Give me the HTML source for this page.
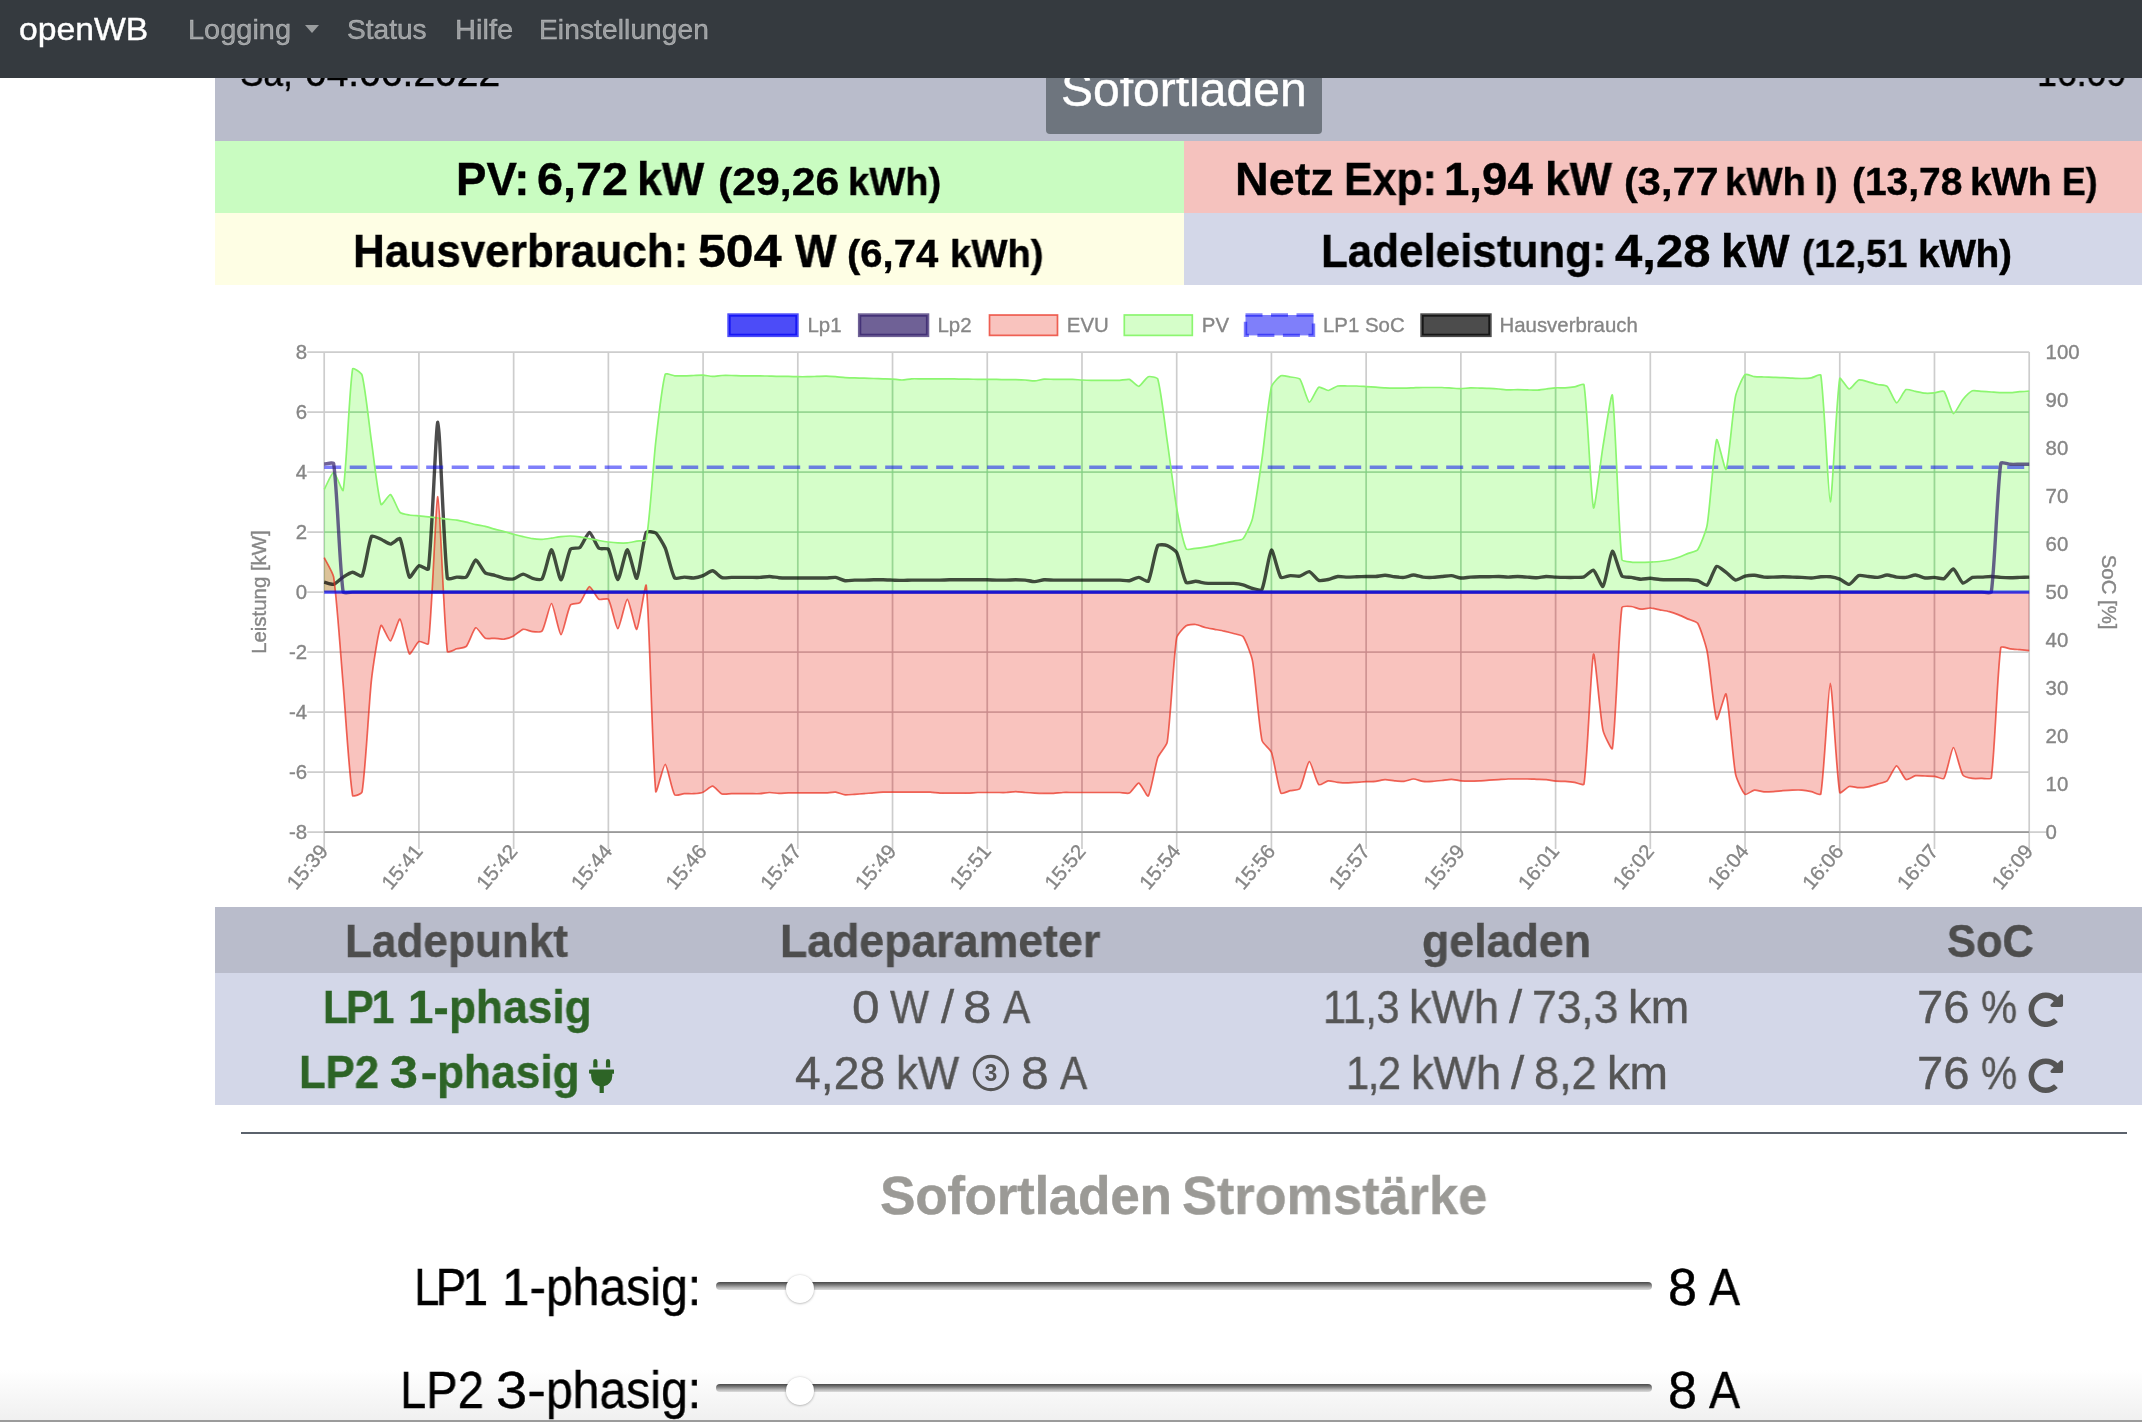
<!DOCTYPE html>
<html lang="de"><head><meta charset="utf-8"><title>openWB</title>
<style>
html,body{margin:0;padding:0;}
body{width:2142px;height:1422px;position:relative;overflow:hidden;background:#fff;font-family:"Liberation Sans",sans-serif;}
.t{position:absolute;white-space:nowrap;line-height:1;will-change:transform;-webkit-text-stroke:0.4px currentColor;}
.b{position:absolute;}
#nav{position:absolute;left:0;top:0;width:2142px;height:77.6px;background:#353a3f;z-index:10;}
.track{position:absolute;left:716px;width:936px;height:8px;border-radius:4px;background:linear-gradient(#484848,#6a6a6a 25%,#b5b5b5 70%,#dcdcdc);}
.thumb{position:absolute;width:28px;height:28px;border-radius:50%;background:#fff;box-shadow:0 0.5px 2.5px rgba(0,0,0,.35);}
</style></head><body>
<div class="b" style="left:215px;top:60px;width:1927px;height:81px;background:#b9bccb"></div>
<div class="t" style="left:240.17px;top:54.23px;font-size:38px;font-weight:normal;color:#000;letter-spacing:0.000px;transform:scaleX(0.9256);transform-origin:0 0;">Sa,</div><div class="t" style="left:304.87px;top:54.23px;font-size:38px;font-weight:normal;color:#000;letter-spacing:0.000px;transform:scaleX(1.0258);transform-origin:0 0;">04.06.2022</div><div class="t" style="left:2037.22px;top:54.13px;font-size:38px;font-weight:normal;color:#000;letter-spacing:0.000px;transform:scaleX(0.9395);transform-origin:0 0;">16:09</div>
<div class="b" style="left:1046.1px;top:40px;width:276px;height:94.1px;background:#6e757e;border-radius:4px"></div>
<div class="t" style="left:1060.60px;top:66.07px;font-size:48px;font-weight:normal;color:#fff;letter-spacing:0.009px;">Sofortladen</div>
<div class="b" style="left:215px;top:141px;width:969px;height:72px;background:#c9fcc1"></div>
<div class="b" style="left:1184px;top:141px;width:958px;height:72px;background:#f5c2be"></div>
<div class="b" style="left:215px;top:213px;width:969px;height:72.3px;background:#fefee4"></div>
<div class="b" style="left:1184px;top:213px;width:958px;height:72.3px;background:#d3d7e8"></div>
<div class="b" style="left:215px;top:907.2px;width:1927px;height:65.5px;background:#b9bccb"></div>
<div class="b" style="left:215px;top:972.7px;width:1927px;height:132px;background:#d3d7e8"></div>
<div class="b" style="left:241px;top:1132px;width:1886px;height:2px;background:#5b626c"></div>
<div class="b" style="left:0;top:1370px;width:2142px;height:50px;background:linear-gradient(rgba(240,240,240,0),rgba(240,240,240,1));pointer-events:none"></div>
<svg width="2142" height="1422" viewBox="0 0 2142 1422" style="position:absolute;left:0;top:0;will-change:transform" font-family="Liberation Sans, sans-serif" font-size="20.4" fill="#868686" stroke="#868686" stroke-width="0.35">
<g stroke="#cdcdcd" stroke-width="1.7" fill="none"><line x1="324.20" y1="352.10" x2="324.20" y2="849.10"/><line x1="418.92" y1="352.10" x2="418.92" y2="849.10"/><line x1="513.64" y1="352.10" x2="513.64" y2="849.10"/><line x1="608.37" y1="352.10" x2="608.37" y2="849.10"/><line x1="703.09" y1="352.10" x2="703.09" y2="849.10"/><line x1="797.81" y1="352.10" x2="797.81" y2="849.10"/><line x1="892.53" y1="352.10" x2="892.53" y2="849.10"/><line x1="987.26" y1="352.10" x2="987.26" y2="849.10"/><line x1="1081.98" y1="352.10" x2="1081.98" y2="849.10"/><line x1="1176.70" y1="352.10" x2="1176.70" y2="849.10"/><line x1="1271.42" y1="352.10" x2="1271.42" y2="849.10"/><line x1="1366.14" y1="352.10" x2="1366.14" y2="849.10"/><line x1="1460.87" y1="352.10" x2="1460.87" y2="849.10"/><line x1="1555.59" y1="352.10" x2="1555.59" y2="849.10"/><line x1="1650.31" y1="352.10" x2="1650.31" y2="849.10"/><line x1="1745.03" y1="352.10" x2="1745.03" y2="849.10"/><line x1="1839.76" y1="352.10" x2="1839.76" y2="849.10"/><line x1="1934.48" y1="352.10" x2="1934.48" y2="849.10"/><line x1="2029.20" y1="352.10" x2="2029.20" y2="849.10"/><line x1="307.20" y1="352.10" x2="2029.20" y2="352.10"/><line x1="307.20" y1="412.10" x2="2029.20" y2="412.10"/><line x1="307.20" y1="472.10" x2="2029.20" y2="472.10"/><line x1="307.20" y1="532.10" x2="2029.20" y2="532.10"/><line x1="307.20" y1="592.10" x2="2029.20" y2="592.10"/><line x1="307.20" y1="652.10" x2="2029.20" y2="652.10"/><line x1="307.20" y1="712.10" x2="2029.20" y2="712.10"/><line x1="307.20" y1="772.10" x2="2029.20" y2="772.10"/><line x1="307.20" y1="832.10" x2="2029.20" y2="832.10"/><line x1="2029.20" y1="832.10" x2="2046.20" y2="832.10"/></g>
<line x1="324.20" y1="832.10" x2="2029.20" y2="832.10" stroke="#9a9a9a" stroke-width="1.7"/>
<path d="M324.20 489.50C326.09 486.08 331.82 472.31 333.67 472.40C335.60 472.49 342.60 493.36 343.14 490.40C346.39 472.66 349.15 389.97 352.62 368.90C352.94 366.93 361.54 373.09 362.09 375.20C365.33 387.73 369.60 428.73 371.56 442.10C373.39 454.59 377.92 495.87 381.03 504.50C381.71 506.37 388.97 493.97 390.51 494.60C392.76 495.53 397.44 509.56 399.98 512.30C401.22 513.64 407.52 514.63 409.45 515.00C411.31 515.35 417.03 515.72 418.92 515.90C420.82 516.08 426.50 516.59 428.39 516.80C430.29 517.01 435.97 517.76 437.87 518.00C439.76 518.24 445.44 518.99 447.34 519.20C449.23 519.41 454.94 519.80 456.81 520.10C458.72 520.40 464.40 521.75 466.28 522.20C468.18 522.65 473.85 524.18 475.76 524.60C477.64 525.02 483.35 525.95 485.23 526.40C487.14 526.85 492.80 528.59 494.70 529.10C496.59 529.61 502.29 530.99 504.17 531.50C506.07 532.01 511.74 533.69 513.64 534.20C515.53 534.71 521.22 536.15 523.12 536.60C525.00 537.05 530.67 538.43 532.59 538.70C534.46 538.97 540.17 539.36 542.06 539.30C543.96 539.24 549.64 538.37 551.53 538.10C553.43 537.83 559.10 536.81 561.01 536.60C562.89 536.39 568.59 535.97 570.48 536.00C572.37 536.03 578.07 536.63 579.95 536.90C581.86 537.17 587.53 538.34 589.42 538.70C591.32 539.06 596.99 540.17 598.89 540.50C600.78 540.83 606.46 541.76 608.37 542.00C610.25 542.24 615.94 542.81 617.84 542.90C619.73 542.99 625.43 543.08 627.31 542.90C629.22 542.72 634.88 541.43 636.78 541.10C638.67 540.77 645.92 541.37 646.26 539.60C649.71 521.57 653.50 461.56 655.73 442.10C657.29 428.50 661.88 385.93 665.20 374.30C665.67 372.67 672.77 375.65 674.67 375.80C676.55 375.95 682.25 375.83 684.14 375.80C686.04 375.77 691.72 375.56 693.62 375.50C695.51 375.44 701.20 375.11 703.09 375.20C704.99 375.29 710.66 376.37 712.56 376.40C714.45 376.43 720.13 375.59 722.03 375.50C723.92 375.41 729.61 375.47 731.51 375.50C733.40 375.53 739.08 375.77 740.98 375.80C742.87 375.83 748.56 375.80 750.45 375.80C752.34 375.80 758.03 375.77 759.92 375.80C761.82 375.83 767.50 376.04 769.39 376.10C771.29 376.16 776.97 376.37 778.87 376.40C780.76 376.43 786.44 376.37 788.34 376.40C790.23 376.43 795.92 376.67 797.81 376.70C799.71 376.73 805.39 376.73 807.28 376.70C809.18 376.67 814.86 376.46 816.76 376.40C818.65 376.34 824.33 376.07 826.23 376.10C828.12 376.13 833.81 376.55 835.70 376.70C837.60 376.85 843.27 377.48 845.17 377.60C847.06 377.72 852.75 377.84 854.64 377.90C856.54 377.96 862.22 378.14 864.12 378.20C866.01 378.26 871.69 378.44 873.59 378.50C875.48 378.56 881.17 378.74 883.06 378.80C884.96 378.86 890.64 378.98 892.53 379.10C894.43 379.22 900.11 380.03 902.01 380.00C903.90 379.97 909.58 378.92 911.48 378.80C913.36 378.68 919.06 378.80 920.95 378.80C922.84 378.80 928.53 378.80 930.42 378.80C932.32 378.80 938.00 378.80 939.89 378.80C941.79 378.80 947.47 378.77 949.37 378.80C951.26 378.83 956.94 379.07 958.84 379.10C960.73 379.13 966.42 379.07 968.31 379.10C970.21 379.13 975.89 379.37 977.78 379.40C979.68 379.43 985.36 379.40 987.26 379.40C989.15 379.40 994.83 379.37 996.73 379.40C998.62 379.43 1004.31 379.67 1006.20 379.70C1008.09 379.73 1013.78 379.67 1015.67 379.70C1017.57 379.73 1023.25 379.88 1025.14 380.00C1027.04 380.12 1032.73 380.99 1034.62 380.90C1036.52 380.81 1042.18 379.25 1044.09 379.10C1045.97 378.95 1051.67 379.37 1053.56 379.40C1055.46 379.43 1061.14 379.40 1063.03 379.40C1064.93 379.40 1070.61 379.34 1072.51 379.40C1074.40 379.46 1080.08 379.91 1081.98 380.00C1083.87 380.09 1089.56 380.27 1091.45 380.30C1093.34 380.33 1099.03 380.30 1100.92 380.30C1102.82 380.30 1108.50 380.30 1110.39 380.30C1112.29 380.30 1117.98 380.39 1119.87 380.30C1121.77 380.21 1127.64 378.86 1129.34 379.40C1131.43 380.06 1137.05 386.55 1138.81 386.30C1140.84 386.01 1146.09 377.54 1148.28 376.70C1149.88 376.10 1157.25 377.36 1157.76 379.10C1161.03 390.26 1165.40 428.77 1167.23 441.20C1169.19 454.57 1174.36 494.80 1176.70 508.10C1178.15 516.34 1183.08 542.35 1186.17 548.90C1186.87 550.39 1193.76 548.48 1195.64 548.30C1197.54 548.12 1203.23 547.40 1205.12 547.10C1207.02 546.80 1212.70 545.69 1214.59 545.30C1216.49 544.91 1222.17 543.62 1224.06 543.20C1225.96 542.78 1231.65 541.55 1233.53 541.10C1235.43 540.65 1241.85 540.07 1243.01 538.70C1245.64 535.57 1251.46 522.89 1252.48 518.60C1255.24 506.99 1260.24 471.11 1261.95 459.20C1264.03 444.77 1268.27 400.80 1271.42 386.90C1272.05 384.12 1278.60 377.00 1280.89 375.80C1282.39 375.02 1288.49 376.67 1290.37 377.00C1292.28 377.33 1298.78 377.69 1299.84 379.10C1302.57 382.73 1307.10 401.25 1309.31 402.20C1310.89 402.87 1316.36 388.69 1318.78 387.20C1320.15 386.35 1326.40 390.62 1328.26 390.50C1330.19 390.38 1335.74 386.47 1337.73 386.00C1339.53 385.57 1345.31 386.00 1347.20 386.00C1349.09 386.00 1354.78 385.94 1356.67 386.00C1358.57 386.06 1364.25 386.48 1366.14 386.60C1368.04 386.72 1373.72 387.08 1375.62 387.20C1377.51 387.32 1383.19 387.71 1385.09 387.80C1386.98 387.89 1392.67 388.07 1394.56 388.10C1396.46 388.13 1402.14 388.13 1404.03 388.10C1405.93 388.07 1411.61 387.86 1413.51 387.80C1415.40 387.74 1421.08 387.53 1422.98 387.50C1424.87 387.47 1430.56 387.50 1432.45 387.50C1434.34 387.50 1440.03 387.44 1441.92 387.50C1443.82 387.56 1449.50 387.98 1451.39 388.10C1453.29 388.22 1458.97 388.73 1460.87 388.70C1462.76 388.67 1468.44 387.86 1470.34 387.80C1472.23 387.74 1477.92 388.04 1479.81 388.10C1481.71 388.16 1487.39 388.31 1489.28 388.40C1491.18 388.49 1496.86 388.85 1498.76 389.00C1500.65 389.15 1506.33 389.84 1508.23 389.90C1510.12 389.96 1515.81 389.60 1517.70 389.60C1519.59 389.60 1525.28 389.84 1527.17 389.90C1529.07 389.96 1534.76 390.29 1536.64 390.20C1538.55 390.11 1544.22 389.24 1546.12 389.00C1548.01 388.76 1553.69 387.92 1555.59 387.80C1557.48 387.68 1563.17 387.89 1565.06 387.80C1566.96 387.71 1572.66 387.20 1574.53 386.90C1576.45 386.60 1583.73 383.04 1584.01 384.80C1587.52 407.22 1590.96 499.57 1593.48 507.80C1594.74 511.93 1600.89 458.81 1602.95 446.60C1604.68 436.31 1611.51 389.86 1612.42 395.30C1615.30 412.48 1618.32 528.21 1621.89 559.70C1622.11 561.57 1629.44 561.83 1631.37 562.10C1633.23 562.37 1638.94 562.40 1640.84 562.40C1642.73 562.40 1648.42 562.19 1650.31 562.10C1652.21 562.01 1657.90 561.71 1659.78 561.50C1661.69 561.29 1667.39 560.41 1669.26 560.00C1671.18 559.57 1676.87 557.95 1678.73 557.30C1680.66 556.63 1686.30 554.15 1688.20 553.40C1690.08 552.65 1696.62 551.37 1697.67 549.80C1700.41 545.73 1706.26 530.36 1707.14 525.20C1710.04 508.34 1713.84 447.89 1716.62 439.70C1717.62 436.73 1724.96 471.98 1726.09 469.40C1728.75 463.28 1732.69 410.57 1735.56 396.20C1736.48 391.61 1742.35 377.36 1745.03 374.60C1746.14 373.46 1752.59 376.46 1754.51 376.70C1756.38 376.94 1762.08 376.94 1763.98 377.00C1765.87 377.06 1771.56 377.24 1773.45 377.30C1775.34 377.36 1781.03 377.51 1782.92 377.60C1784.82 377.69 1790.50 378.11 1792.39 378.20C1794.29 378.29 1799.97 378.53 1801.87 378.50C1803.76 378.47 1809.48 378.22 1811.34 377.90C1813.27 377.56 1820.54 373.42 1820.81 375.20C1824.33 398.20 1828.36 501.47 1830.28 501.80C1832.15 502.13 1836.36 398.74 1839.76 378.50C1840.14 376.18 1847.26 388.84 1849.23 389.00C1851.05 389.14 1856.52 380.83 1858.70 380.00C1860.31 379.39 1866.30 381.35 1868.17 381.80C1870.09 382.25 1875.73 384.05 1877.64 384.50C1879.52 384.95 1885.84 385.07 1887.12 386.30C1889.63 388.73 1894.55 402.44 1896.59 402.80C1898.33 403.10 1903.68 391.03 1906.06 389.60C1907.47 388.75 1913.64 391.04 1915.53 391.40C1917.43 391.76 1923.09 393.05 1925.01 393.20C1926.88 393.35 1932.59 393.08 1934.48 392.90C1936.38 392.72 1942.87 390.22 1943.95 391.40C1946.66 394.36 1951.20 412.65 1953.42 413.60C1954.99 414.27 1960.74 402.10 1962.89 399.50C1964.53 397.54 1970.19 391.73 1972.37 390.80C1973.98 390.11 1979.94 391.28 1981.84 391.40C1983.73 391.52 1989.42 391.88 1991.31 392.00C1993.21 392.12 1998.89 392.54 2000.78 392.60C2002.68 392.66 2008.37 392.69 2010.26 392.60C2012.15 392.51 2017.83 391.85 2019.73 391.70C2021.62 391.55 2027.31 391.22 2029.20 391.10L2029.20 592.10L324.20 592.10Z" fill="rgba(117,251,76,0.3)" stroke="none"/>
<path d="M324.20 557.60C326.09 561.50 333.04 572.85 333.67 577.10C336.83 598.23 341.28 663.02 343.14 684.50C345.07 706.70 349.14 775.81 352.62 795.50C352.93 797.29 361.78 793.81 362.09 791.90C365.57 770.53 369.00 701.57 371.56 679.10C372.79 668.27 378.19 631.11 381.03 625.40C381.98 623.49 388.86 641.55 390.51 641.00C392.65 640.29 398.47 618.07 399.98 619.10C402.26 620.65 406.80 650.75 409.45 653.90C410.59 655.25 416.59 642.86 418.92 641.60C420.38 640.82 428.16 645.49 428.39 643.70C431.95 616.51 436.02 495.94 437.87 496.70C439.81 497.50 443.78 622.90 447.34 651.50C447.57 653.32 454.91 649.31 456.81 648.80C458.70 648.29 465.08 647.74 466.28 646.40C468.86 643.54 473.50 628.77 475.76 627.80C477.29 627.15 482.96 637.04 485.23 638.30C486.75 639.14 492.81 638.21 494.70 638.30C496.60 638.39 502.33 639.43 504.17 639.20C506.12 638.95 511.88 636.82 513.64 635.90C515.67 634.84 521.06 629.75 523.12 629.30C524.85 628.91 530.67 631.52 532.59 631.70C534.46 631.88 541.13 632.48 542.06 631.10C544.92 626.84 549.74 603.16 551.53 603.50C553.53 603.88 559.07 634.55 561.01 634.70C562.86 634.85 567.59 609.89 570.48 605.00C571.38 603.47 578.64 603.86 579.95 602.60C582.43 600.20 587.38 587.06 589.42 586.70C591.16 586.40 596.53 597.73 598.89 599.30C600.32 600.25 607.48 597.92 608.37 599.30C611.27 603.80 615.94 628.70 617.84 628.70C619.73 628.70 625.43 599.24 627.31 599.30C629.22 599.36 635.22 630.44 636.78 629.30C639.01 627.68 645.58 579.71 646.26 585.50C649.37 612.17 652.40 760.23 655.73 791.60C656.19 795.99 663.40 763.99 665.20 764.30C667.19 764.65 671.75 790.37 674.67 794.90C675.54 796.25 682.24 793.82 684.14 793.70C686.03 793.58 691.73 793.85 693.62 793.70C695.52 793.55 701.34 792.89 703.09 792.20C705.13 791.39 710.75 786.03 712.56 786.20C714.54 786.39 719.90 793.15 722.03 794.00C723.68 794.65 729.61 793.73 731.51 793.70C733.40 793.67 739.08 793.70 740.98 793.70C742.87 793.70 748.56 793.70 750.45 793.70C752.34 793.70 758.04 793.82 759.92 793.70C761.82 793.58 767.50 792.53 769.39 792.50C771.29 792.47 776.97 793.37 778.87 793.40C780.76 793.43 786.44 792.86 788.34 792.80C790.23 792.74 795.92 792.80 797.81 792.80C799.71 792.80 805.39 792.80 807.28 792.80C809.18 792.80 814.86 792.80 816.76 792.80C818.65 792.80 824.34 792.86 826.23 792.80C828.12 792.74 833.84 791.99 835.70 792.20C837.63 792.41 843.24 794.69 845.17 794.90C847.03 795.11 852.75 794.42 854.64 794.30C856.54 794.18 862.22 793.85 864.12 793.70C866.01 793.55 871.69 792.95 873.59 792.80C875.48 792.65 881.16 792.26 883.06 792.20C884.95 792.14 890.64 792.20 892.53 792.20C894.43 792.20 900.11 792.20 902.01 792.20C903.90 792.20 909.58 792.20 911.48 792.20C913.37 792.20 919.06 792.20 920.95 792.20C922.84 792.20 928.53 792.11 930.42 792.20C932.32 792.29 938.00 793.01 939.89 793.10C941.78 793.19 947.47 793.10 949.37 793.10C951.26 793.10 956.94 793.10 958.84 793.10C960.73 793.10 966.42 793.16 968.31 793.10C970.21 793.04 975.89 792.56 977.78 792.50C979.68 792.44 985.36 792.50 987.26 792.50C989.15 792.50 994.83 792.50 996.73 792.50C998.62 792.50 1004.31 792.59 1006.20 792.50C1008.10 792.41 1013.78 791.60 1015.67 791.60C1017.57 791.60 1023.25 792.35 1025.14 792.50C1027.04 792.65 1032.72 793.01 1034.62 793.10C1036.51 793.19 1042.19 793.37 1044.09 793.40C1045.98 793.43 1051.67 793.49 1053.56 793.40C1055.46 793.31 1061.13 792.59 1063.03 792.50C1064.92 792.41 1070.61 792.50 1072.51 792.50C1074.40 792.50 1080.08 792.50 1081.98 792.50C1083.87 792.50 1089.56 792.50 1091.45 792.50C1093.34 792.50 1099.03 792.50 1100.92 792.50C1102.82 792.50 1108.50 792.50 1110.39 792.50C1112.29 792.50 1117.97 792.44 1119.87 792.50C1121.76 792.56 1127.79 793.86 1129.34 793.10C1131.58 792.00 1137.06 782.92 1138.81 783.20C1140.85 783.52 1147.19 797.57 1148.28 796.10C1150.98 792.47 1155.16 765.09 1157.76 757.70C1158.95 754.29 1166.67 745.66 1167.23 742.10C1170.45 721.66 1173.39 658.02 1176.70 637.70C1177.18 634.74 1183.84 627.33 1186.17 625.70C1187.63 624.69 1193.79 624.32 1195.64 624.50C1197.58 624.68 1203.19 627.01 1205.12 627.50C1206.98 627.97 1212.69 628.94 1214.59 629.30C1216.48 629.66 1222.18 630.68 1224.06 631.10C1225.97 631.52 1231.65 632.96 1233.53 633.50C1235.44 634.04 1241.96 634.99 1243.01 636.50C1245.75 640.45 1251.55 655.70 1252.48 660.80C1255.34 676.46 1258.77 724.93 1261.95 740.30C1262.56 743.23 1270.41 749.48 1271.42 752.30C1274.20 760.04 1277.82 786.87 1280.89 793.10C1281.61 794.55 1288.47 791.15 1290.37 790.70C1292.25 790.25 1298.88 790.07 1299.84 788.60C1302.67 784.25 1307.29 762.02 1309.31 761.60C1311.08 761.24 1316.10 781.98 1318.78 784.70C1319.89 785.82 1326.30 781.05 1328.26 780.80C1330.09 780.57 1335.82 782.09 1337.73 782.30C1339.61 782.51 1345.31 782.90 1347.20 782.90C1349.09 782.90 1354.78 782.42 1356.67 782.30C1358.57 782.18 1364.25 781.79 1366.14 781.70C1368.04 781.61 1373.74 781.61 1375.62 781.40C1377.53 781.19 1383.19 779.66 1385.09 779.60C1386.97 779.54 1392.66 780.62 1394.56 780.80C1396.45 780.98 1402.17 781.58 1404.03 781.40C1405.96 781.22 1411.61 779.00 1413.51 779.00C1415.40 779.00 1421.05 781.16 1422.98 781.40C1424.84 781.64 1430.56 781.49 1432.45 781.40C1434.35 781.31 1440.03 780.71 1441.92 780.50C1443.82 780.29 1449.50 779.27 1451.39 779.30C1453.29 779.33 1458.96 780.62 1460.87 780.80C1462.75 780.98 1468.44 781.10 1470.34 781.10C1472.23 781.10 1477.92 780.89 1479.81 780.80C1481.71 780.71 1487.39 780.32 1489.28 780.20C1491.18 780.08 1496.86 779.72 1498.76 779.60C1500.65 779.48 1506.33 779.06 1508.23 779.00C1510.12 778.94 1515.81 779.00 1517.70 779.00C1519.59 779.00 1525.28 778.97 1527.17 779.00C1529.07 779.03 1534.75 779.24 1536.64 779.30C1538.54 779.36 1544.23 779.42 1546.12 779.60C1548.02 779.78 1553.68 780.92 1555.59 781.10C1557.47 781.28 1563.17 781.28 1565.06 781.40C1566.96 781.52 1572.65 782.03 1574.53 782.30C1576.44 782.57 1583.74 785.87 1584.01 784.10C1587.53 760.25 1591.09 661.00 1593.48 654.20C1594.88 650.20 1599.97 715.26 1602.95 730.10C1603.75 734.10 1611.94 751.52 1612.42 748.40C1615.73 727.04 1618.35 634.28 1621.89 607.70C1622.13 605.90 1629.50 606.35 1631.37 606.50C1633.29 606.65 1638.91 609.05 1640.84 609.20C1642.70 609.35 1648.43 607.94 1650.31 608.00C1652.21 608.06 1657.89 609.44 1659.78 609.80C1661.68 610.16 1667.40 611.10 1669.26 611.60C1671.19 612.12 1676.86 614.16 1678.73 614.90C1680.65 615.66 1686.31 618.26 1688.20 619.10C1690.09 619.94 1696.69 621.63 1697.67 623.30C1700.48 628.11 1706.00 645.68 1707.14 651.50C1709.79 664.88 1713.90 713.18 1716.62 719.30C1717.69 721.70 1725.14 691.35 1726.09 694.10C1728.93 702.33 1732.59 758.49 1735.56 774.20C1736.38 778.53 1742.45 792.13 1745.03 794.30C1746.24 795.31 1752.54 790.35 1754.51 790.10C1756.33 789.87 1762.07 791.75 1763.98 791.90C1765.86 792.05 1771.56 791.72 1773.45 791.60C1775.35 791.48 1781.03 790.85 1782.92 790.70C1784.81 790.55 1790.50 790.16 1792.39 790.10C1794.29 790.04 1799.98 789.95 1801.87 790.10C1803.77 790.25 1809.46 791.21 1811.34 791.60C1813.25 791.99 1820.50 795.75 1820.81 794.00C1824.29 774.09 1828.38 683.45 1830.28 683.30C1832.16 683.15 1836.32 773.78 1839.76 792.50C1840.11 794.42 1847.18 787.02 1849.23 786.50C1850.97 786.06 1856.80 787.67 1858.70 787.70C1860.59 787.73 1866.31 787.15 1868.17 786.80C1870.10 786.43 1875.77 784.69 1877.64 784.10C1879.56 783.49 1885.75 782.12 1887.12 780.80C1889.54 778.46 1894.64 765.92 1896.59 765.80C1898.43 765.68 1903.71 778.37 1906.06 779.60C1907.50 780.35 1913.57 776.07 1915.53 775.70C1917.35 775.35 1923.11 775.94 1925.01 776.00C1926.90 776.06 1932.61 776.06 1934.48 776.30C1936.39 776.54 1943.08 779.73 1943.95 778.40C1946.86 773.97 1951.43 747.85 1953.42 747.50C1955.22 747.19 1960.07 770.50 1962.89 775.10C1963.86 776.68 1970.42 778.06 1972.37 778.40C1974.21 778.72 1979.95 778.46 1981.84 778.40C1983.74 778.34 1991.05 779.57 1991.31 777.80C1994.84 753.41 1997.25 671.64 2000.78 647.60C2001.04 645.84 2008.36 648.59 2010.26 648.80C2012.15 649.01 2017.83 649.52 2019.73 649.70C2021.62 649.88 2027.31 650.42 2029.20 650.60L2029.20 592.10L324.20 592.10Z" fill="rgba(234,55,40,0.3)" stroke="none"/>
<clipPath id="cpv"><path d="M324.20 489.50C326.09 486.08 331.82 472.31 333.67 472.40C335.60 472.49 342.60 493.36 343.14 490.40C346.39 472.66 349.15 389.97 352.62 368.90C352.94 366.93 361.54 373.09 362.09 375.20C365.33 387.73 369.60 428.73 371.56 442.10C373.39 454.59 377.92 495.87 381.03 504.50C381.71 506.37 388.97 493.97 390.51 494.60C392.76 495.53 397.44 509.56 399.98 512.30C401.22 513.64 407.52 514.63 409.45 515.00C411.31 515.35 417.03 515.72 418.92 515.90C420.82 516.08 426.50 516.59 428.39 516.80C430.29 517.01 435.97 517.76 437.87 518.00C439.76 518.24 445.44 518.99 447.34 519.20C449.23 519.41 454.94 519.80 456.81 520.10C458.72 520.40 464.40 521.75 466.28 522.20C468.18 522.65 473.85 524.18 475.76 524.60C477.64 525.02 483.35 525.95 485.23 526.40C487.14 526.85 492.80 528.59 494.70 529.10C496.59 529.61 502.29 530.99 504.17 531.50C506.07 532.01 511.74 533.69 513.64 534.20C515.53 534.71 521.22 536.15 523.12 536.60C525.00 537.05 530.67 538.43 532.59 538.70C534.46 538.97 540.17 539.36 542.06 539.30C543.96 539.24 549.64 538.37 551.53 538.10C553.43 537.83 559.10 536.81 561.01 536.60C562.89 536.39 568.59 535.97 570.48 536.00C572.37 536.03 578.07 536.63 579.95 536.90C581.86 537.17 587.53 538.34 589.42 538.70C591.32 539.06 596.99 540.17 598.89 540.50C600.78 540.83 606.46 541.76 608.37 542.00C610.25 542.24 615.94 542.81 617.84 542.90C619.73 542.99 625.43 543.08 627.31 542.90C629.22 542.72 634.88 541.43 636.78 541.10C638.67 540.77 645.92 541.37 646.26 539.60C649.71 521.57 653.50 461.56 655.73 442.10C657.29 428.50 661.88 385.93 665.20 374.30C665.67 372.67 672.77 375.65 674.67 375.80C676.55 375.95 682.25 375.83 684.14 375.80C686.04 375.77 691.72 375.56 693.62 375.50C695.51 375.44 701.20 375.11 703.09 375.20C704.99 375.29 710.66 376.37 712.56 376.40C714.45 376.43 720.13 375.59 722.03 375.50C723.92 375.41 729.61 375.47 731.51 375.50C733.40 375.53 739.08 375.77 740.98 375.80C742.87 375.83 748.56 375.80 750.45 375.80C752.34 375.80 758.03 375.77 759.92 375.80C761.82 375.83 767.50 376.04 769.39 376.10C771.29 376.16 776.97 376.37 778.87 376.40C780.76 376.43 786.44 376.37 788.34 376.40C790.23 376.43 795.92 376.67 797.81 376.70C799.71 376.73 805.39 376.73 807.28 376.70C809.18 376.67 814.86 376.46 816.76 376.40C818.65 376.34 824.33 376.07 826.23 376.10C828.12 376.13 833.81 376.55 835.70 376.70C837.60 376.85 843.27 377.48 845.17 377.60C847.06 377.72 852.75 377.84 854.64 377.90C856.54 377.96 862.22 378.14 864.12 378.20C866.01 378.26 871.69 378.44 873.59 378.50C875.48 378.56 881.17 378.74 883.06 378.80C884.96 378.86 890.64 378.98 892.53 379.10C894.43 379.22 900.11 380.03 902.01 380.00C903.90 379.97 909.58 378.92 911.48 378.80C913.36 378.68 919.06 378.80 920.95 378.80C922.84 378.80 928.53 378.80 930.42 378.80C932.32 378.80 938.00 378.80 939.89 378.80C941.79 378.80 947.47 378.77 949.37 378.80C951.26 378.83 956.94 379.07 958.84 379.10C960.73 379.13 966.42 379.07 968.31 379.10C970.21 379.13 975.89 379.37 977.78 379.40C979.68 379.43 985.36 379.40 987.26 379.40C989.15 379.40 994.83 379.37 996.73 379.40C998.62 379.43 1004.31 379.67 1006.20 379.70C1008.09 379.73 1013.78 379.67 1015.67 379.70C1017.57 379.73 1023.25 379.88 1025.14 380.00C1027.04 380.12 1032.73 380.99 1034.62 380.90C1036.52 380.81 1042.18 379.25 1044.09 379.10C1045.97 378.95 1051.67 379.37 1053.56 379.40C1055.46 379.43 1061.14 379.40 1063.03 379.40C1064.93 379.40 1070.61 379.34 1072.51 379.40C1074.40 379.46 1080.08 379.91 1081.98 380.00C1083.87 380.09 1089.56 380.27 1091.45 380.30C1093.34 380.33 1099.03 380.30 1100.92 380.30C1102.82 380.30 1108.50 380.30 1110.39 380.30C1112.29 380.30 1117.98 380.39 1119.87 380.30C1121.77 380.21 1127.64 378.86 1129.34 379.40C1131.43 380.06 1137.05 386.55 1138.81 386.30C1140.84 386.01 1146.09 377.54 1148.28 376.70C1149.88 376.10 1157.25 377.36 1157.76 379.10C1161.03 390.26 1165.40 428.77 1167.23 441.20C1169.19 454.57 1174.36 494.80 1176.70 508.10C1178.15 516.34 1183.08 542.35 1186.17 548.90C1186.87 550.39 1193.76 548.48 1195.64 548.30C1197.54 548.12 1203.23 547.40 1205.12 547.10C1207.02 546.80 1212.70 545.69 1214.59 545.30C1216.49 544.91 1222.17 543.62 1224.06 543.20C1225.96 542.78 1231.65 541.55 1233.53 541.10C1235.43 540.65 1241.85 540.07 1243.01 538.70C1245.64 535.57 1251.46 522.89 1252.48 518.60C1255.24 506.99 1260.24 471.11 1261.95 459.20C1264.03 444.77 1268.27 400.80 1271.42 386.90C1272.05 384.12 1278.60 377.00 1280.89 375.80C1282.39 375.02 1288.49 376.67 1290.37 377.00C1292.28 377.33 1298.78 377.69 1299.84 379.10C1302.57 382.73 1307.10 401.25 1309.31 402.20C1310.89 402.87 1316.36 388.69 1318.78 387.20C1320.15 386.35 1326.40 390.62 1328.26 390.50C1330.19 390.38 1335.74 386.47 1337.73 386.00C1339.53 385.57 1345.31 386.00 1347.20 386.00C1349.09 386.00 1354.78 385.94 1356.67 386.00C1358.57 386.06 1364.25 386.48 1366.14 386.60C1368.04 386.72 1373.72 387.08 1375.62 387.20C1377.51 387.32 1383.19 387.71 1385.09 387.80C1386.98 387.89 1392.67 388.07 1394.56 388.10C1396.46 388.13 1402.14 388.13 1404.03 388.10C1405.93 388.07 1411.61 387.86 1413.51 387.80C1415.40 387.74 1421.08 387.53 1422.98 387.50C1424.87 387.47 1430.56 387.50 1432.45 387.50C1434.34 387.50 1440.03 387.44 1441.92 387.50C1443.82 387.56 1449.50 387.98 1451.39 388.10C1453.29 388.22 1458.97 388.73 1460.87 388.70C1462.76 388.67 1468.44 387.86 1470.34 387.80C1472.23 387.74 1477.92 388.04 1479.81 388.10C1481.71 388.16 1487.39 388.31 1489.28 388.40C1491.18 388.49 1496.86 388.85 1498.76 389.00C1500.65 389.15 1506.33 389.84 1508.23 389.90C1510.12 389.96 1515.81 389.60 1517.70 389.60C1519.59 389.60 1525.28 389.84 1527.17 389.90C1529.07 389.96 1534.76 390.29 1536.64 390.20C1538.55 390.11 1544.22 389.24 1546.12 389.00C1548.01 388.76 1553.69 387.92 1555.59 387.80C1557.48 387.68 1563.17 387.89 1565.06 387.80C1566.96 387.71 1572.66 387.20 1574.53 386.90C1576.45 386.60 1583.73 383.04 1584.01 384.80C1587.52 407.22 1590.96 499.57 1593.48 507.80C1594.74 511.93 1600.89 458.81 1602.95 446.60C1604.68 436.31 1611.51 389.86 1612.42 395.30C1615.30 412.48 1618.32 528.21 1621.89 559.70C1622.11 561.57 1629.44 561.83 1631.37 562.10C1633.23 562.37 1638.94 562.40 1640.84 562.40C1642.73 562.40 1648.42 562.19 1650.31 562.10C1652.21 562.01 1657.90 561.71 1659.78 561.50C1661.69 561.29 1667.39 560.41 1669.26 560.00C1671.18 559.57 1676.87 557.95 1678.73 557.30C1680.66 556.63 1686.30 554.15 1688.20 553.40C1690.08 552.65 1696.62 551.37 1697.67 549.80C1700.41 545.73 1706.26 530.36 1707.14 525.20C1710.04 508.34 1713.84 447.89 1716.62 439.70C1717.62 436.73 1724.96 471.98 1726.09 469.40C1728.75 463.28 1732.69 410.57 1735.56 396.20C1736.48 391.61 1742.35 377.36 1745.03 374.60C1746.14 373.46 1752.59 376.46 1754.51 376.70C1756.38 376.94 1762.08 376.94 1763.98 377.00C1765.87 377.06 1771.56 377.24 1773.45 377.30C1775.34 377.36 1781.03 377.51 1782.92 377.60C1784.82 377.69 1790.50 378.11 1792.39 378.20C1794.29 378.29 1799.97 378.53 1801.87 378.50C1803.76 378.47 1809.48 378.22 1811.34 377.90C1813.27 377.56 1820.54 373.42 1820.81 375.20C1824.33 398.20 1828.36 501.47 1830.28 501.80C1832.15 502.13 1836.36 398.74 1839.76 378.50C1840.14 376.18 1847.26 388.84 1849.23 389.00C1851.05 389.14 1856.52 380.83 1858.70 380.00C1860.31 379.39 1866.30 381.35 1868.17 381.80C1870.09 382.25 1875.73 384.05 1877.64 384.50C1879.52 384.95 1885.84 385.07 1887.12 386.30C1889.63 388.73 1894.55 402.44 1896.59 402.80C1898.33 403.10 1903.68 391.03 1906.06 389.60C1907.47 388.75 1913.64 391.04 1915.53 391.40C1917.43 391.76 1923.09 393.05 1925.01 393.20C1926.88 393.35 1932.59 393.08 1934.48 392.90C1936.38 392.72 1942.87 390.22 1943.95 391.40C1946.66 394.36 1951.20 412.65 1953.42 413.60C1954.99 414.27 1960.74 402.10 1962.89 399.50C1964.53 397.54 1970.19 391.73 1972.37 390.80C1973.98 390.11 1979.94 391.28 1981.84 391.40C1983.73 391.52 1989.42 391.88 1991.31 392.00C1993.21 392.12 1998.89 392.54 2000.78 392.60C2002.68 392.66 2008.37 392.69 2010.26 392.60C2012.15 392.51 2017.83 391.85 2019.73 391.70C2021.62 391.55 2027.31 391.22 2029.20 391.10L2029.20 592.10L324.20 592.10Z"/></clipPath><clipPath id="cev"><path d="M324.20 557.60C326.09 561.50 333.04 572.85 333.67 577.10C336.83 598.23 341.28 663.02 343.14 684.50C345.07 706.70 349.14 775.81 352.62 795.50C352.93 797.29 361.78 793.81 362.09 791.90C365.57 770.53 369.00 701.57 371.56 679.10C372.79 668.27 378.19 631.11 381.03 625.40C381.98 623.49 388.86 641.55 390.51 641.00C392.65 640.29 398.47 618.07 399.98 619.10C402.26 620.65 406.80 650.75 409.45 653.90C410.59 655.25 416.59 642.86 418.92 641.60C420.38 640.82 428.16 645.49 428.39 643.70C431.95 616.51 436.02 495.94 437.87 496.70C439.81 497.50 443.78 622.90 447.34 651.50C447.57 653.32 454.91 649.31 456.81 648.80C458.70 648.29 465.08 647.74 466.28 646.40C468.86 643.54 473.50 628.77 475.76 627.80C477.29 627.15 482.96 637.04 485.23 638.30C486.75 639.14 492.81 638.21 494.70 638.30C496.60 638.39 502.33 639.43 504.17 639.20C506.12 638.95 511.88 636.82 513.64 635.90C515.67 634.84 521.06 629.75 523.12 629.30C524.85 628.91 530.67 631.52 532.59 631.70C534.46 631.88 541.13 632.48 542.06 631.10C544.92 626.84 549.74 603.16 551.53 603.50C553.53 603.88 559.07 634.55 561.01 634.70C562.86 634.85 567.59 609.89 570.48 605.00C571.38 603.47 578.64 603.86 579.95 602.60C582.43 600.20 587.38 587.06 589.42 586.70C591.16 586.40 596.53 597.73 598.89 599.30C600.32 600.25 607.48 597.92 608.37 599.30C611.27 603.80 615.94 628.70 617.84 628.70C619.73 628.70 625.43 599.24 627.31 599.30C629.22 599.36 635.22 630.44 636.78 629.30C639.01 627.68 645.58 579.71 646.26 585.50C649.37 612.17 652.40 760.23 655.73 791.60C656.19 795.99 663.40 763.99 665.20 764.30C667.19 764.65 671.75 790.37 674.67 794.90C675.54 796.25 682.24 793.82 684.14 793.70C686.03 793.58 691.73 793.85 693.62 793.70C695.52 793.55 701.34 792.89 703.09 792.20C705.13 791.39 710.75 786.03 712.56 786.20C714.54 786.39 719.90 793.15 722.03 794.00C723.68 794.65 729.61 793.73 731.51 793.70C733.40 793.67 739.08 793.70 740.98 793.70C742.87 793.70 748.56 793.70 750.45 793.70C752.34 793.70 758.04 793.82 759.92 793.70C761.82 793.58 767.50 792.53 769.39 792.50C771.29 792.47 776.97 793.37 778.87 793.40C780.76 793.43 786.44 792.86 788.34 792.80C790.23 792.74 795.92 792.80 797.81 792.80C799.71 792.80 805.39 792.80 807.28 792.80C809.18 792.80 814.86 792.80 816.76 792.80C818.65 792.80 824.34 792.86 826.23 792.80C828.12 792.74 833.84 791.99 835.70 792.20C837.63 792.41 843.24 794.69 845.17 794.90C847.03 795.11 852.75 794.42 854.64 794.30C856.54 794.18 862.22 793.85 864.12 793.70C866.01 793.55 871.69 792.95 873.59 792.80C875.48 792.65 881.16 792.26 883.06 792.20C884.95 792.14 890.64 792.20 892.53 792.20C894.43 792.20 900.11 792.20 902.01 792.20C903.90 792.20 909.58 792.20 911.48 792.20C913.37 792.20 919.06 792.20 920.95 792.20C922.84 792.20 928.53 792.11 930.42 792.20C932.32 792.29 938.00 793.01 939.89 793.10C941.78 793.19 947.47 793.10 949.37 793.10C951.26 793.10 956.94 793.10 958.84 793.10C960.73 793.10 966.42 793.16 968.31 793.10C970.21 793.04 975.89 792.56 977.78 792.50C979.68 792.44 985.36 792.50 987.26 792.50C989.15 792.50 994.83 792.50 996.73 792.50C998.62 792.50 1004.31 792.59 1006.20 792.50C1008.10 792.41 1013.78 791.60 1015.67 791.60C1017.57 791.60 1023.25 792.35 1025.14 792.50C1027.04 792.65 1032.72 793.01 1034.62 793.10C1036.51 793.19 1042.19 793.37 1044.09 793.40C1045.98 793.43 1051.67 793.49 1053.56 793.40C1055.46 793.31 1061.13 792.59 1063.03 792.50C1064.92 792.41 1070.61 792.50 1072.51 792.50C1074.40 792.50 1080.08 792.50 1081.98 792.50C1083.87 792.50 1089.56 792.50 1091.45 792.50C1093.34 792.50 1099.03 792.50 1100.92 792.50C1102.82 792.50 1108.50 792.50 1110.39 792.50C1112.29 792.50 1117.97 792.44 1119.87 792.50C1121.76 792.56 1127.79 793.86 1129.34 793.10C1131.58 792.00 1137.06 782.92 1138.81 783.20C1140.85 783.52 1147.19 797.57 1148.28 796.10C1150.98 792.47 1155.16 765.09 1157.76 757.70C1158.95 754.29 1166.67 745.66 1167.23 742.10C1170.45 721.66 1173.39 658.02 1176.70 637.70C1177.18 634.74 1183.84 627.33 1186.17 625.70C1187.63 624.69 1193.79 624.32 1195.64 624.50C1197.58 624.68 1203.19 627.01 1205.12 627.50C1206.98 627.97 1212.69 628.94 1214.59 629.30C1216.48 629.66 1222.18 630.68 1224.06 631.10C1225.97 631.52 1231.65 632.96 1233.53 633.50C1235.44 634.04 1241.96 634.99 1243.01 636.50C1245.75 640.45 1251.55 655.70 1252.48 660.80C1255.34 676.46 1258.77 724.93 1261.95 740.30C1262.56 743.23 1270.41 749.48 1271.42 752.30C1274.20 760.04 1277.82 786.87 1280.89 793.10C1281.61 794.55 1288.47 791.15 1290.37 790.70C1292.25 790.25 1298.88 790.07 1299.84 788.60C1302.67 784.25 1307.29 762.02 1309.31 761.60C1311.08 761.24 1316.10 781.98 1318.78 784.70C1319.89 785.82 1326.30 781.05 1328.26 780.80C1330.09 780.57 1335.82 782.09 1337.73 782.30C1339.61 782.51 1345.31 782.90 1347.20 782.90C1349.09 782.90 1354.78 782.42 1356.67 782.30C1358.57 782.18 1364.25 781.79 1366.14 781.70C1368.04 781.61 1373.74 781.61 1375.62 781.40C1377.53 781.19 1383.19 779.66 1385.09 779.60C1386.97 779.54 1392.66 780.62 1394.56 780.80C1396.45 780.98 1402.17 781.58 1404.03 781.40C1405.96 781.22 1411.61 779.00 1413.51 779.00C1415.40 779.00 1421.05 781.16 1422.98 781.40C1424.84 781.64 1430.56 781.49 1432.45 781.40C1434.35 781.31 1440.03 780.71 1441.92 780.50C1443.82 780.29 1449.50 779.27 1451.39 779.30C1453.29 779.33 1458.96 780.62 1460.87 780.80C1462.75 780.98 1468.44 781.10 1470.34 781.10C1472.23 781.10 1477.92 780.89 1479.81 780.80C1481.71 780.71 1487.39 780.32 1489.28 780.20C1491.18 780.08 1496.86 779.72 1498.76 779.60C1500.65 779.48 1506.33 779.06 1508.23 779.00C1510.12 778.94 1515.81 779.00 1517.70 779.00C1519.59 779.00 1525.28 778.97 1527.17 779.00C1529.07 779.03 1534.75 779.24 1536.64 779.30C1538.54 779.36 1544.23 779.42 1546.12 779.60C1548.02 779.78 1553.68 780.92 1555.59 781.10C1557.47 781.28 1563.17 781.28 1565.06 781.40C1566.96 781.52 1572.65 782.03 1574.53 782.30C1576.44 782.57 1583.74 785.87 1584.01 784.10C1587.53 760.25 1591.09 661.00 1593.48 654.20C1594.88 650.20 1599.97 715.26 1602.95 730.10C1603.75 734.10 1611.94 751.52 1612.42 748.40C1615.73 727.04 1618.35 634.28 1621.89 607.70C1622.13 605.90 1629.50 606.35 1631.37 606.50C1633.29 606.65 1638.91 609.05 1640.84 609.20C1642.70 609.35 1648.43 607.94 1650.31 608.00C1652.21 608.06 1657.89 609.44 1659.78 609.80C1661.68 610.16 1667.40 611.10 1669.26 611.60C1671.19 612.12 1676.86 614.16 1678.73 614.90C1680.65 615.66 1686.31 618.26 1688.20 619.10C1690.09 619.94 1696.69 621.63 1697.67 623.30C1700.48 628.11 1706.00 645.68 1707.14 651.50C1709.79 664.88 1713.90 713.18 1716.62 719.30C1717.69 721.70 1725.14 691.35 1726.09 694.10C1728.93 702.33 1732.59 758.49 1735.56 774.20C1736.38 778.53 1742.45 792.13 1745.03 794.30C1746.24 795.31 1752.54 790.35 1754.51 790.10C1756.33 789.87 1762.07 791.75 1763.98 791.90C1765.86 792.05 1771.56 791.72 1773.45 791.60C1775.35 791.48 1781.03 790.85 1782.92 790.70C1784.81 790.55 1790.50 790.16 1792.39 790.10C1794.29 790.04 1799.98 789.95 1801.87 790.10C1803.77 790.25 1809.46 791.21 1811.34 791.60C1813.25 791.99 1820.50 795.75 1820.81 794.00C1824.29 774.09 1828.38 683.45 1830.28 683.30C1832.16 683.15 1836.32 773.78 1839.76 792.50C1840.11 794.42 1847.18 787.02 1849.23 786.50C1850.97 786.06 1856.80 787.67 1858.70 787.70C1860.59 787.73 1866.31 787.15 1868.17 786.80C1870.10 786.43 1875.77 784.69 1877.64 784.10C1879.56 783.49 1885.75 782.12 1887.12 780.80C1889.54 778.46 1894.64 765.92 1896.59 765.80C1898.43 765.68 1903.71 778.37 1906.06 779.60C1907.50 780.35 1913.57 776.07 1915.53 775.70C1917.35 775.35 1923.11 775.94 1925.01 776.00C1926.90 776.06 1932.61 776.06 1934.48 776.30C1936.39 776.54 1943.08 779.73 1943.95 778.40C1946.86 773.97 1951.43 747.85 1953.42 747.50C1955.22 747.19 1960.07 770.50 1962.89 775.10C1963.86 776.68 1970.42 778.06 1972.37 778.40C1974.21 778.72 1979.95 778.46 1981.84 778.40C1983.74 778.34 1991.05 779.57 1991.31 777.80C1994.84 753.41 1997.25 671.64 2000.78 647.60C2001.04 645.84 2008.36 648.59 2010.26 648.80C2012.15 649.01 2017.83 649.52 2019.73 649.70C2021.62 649.88 2027.31 650.42 2029.20 650.60L2029.20 592.10L324.20 592.10Z"/></clipPath>
<g clip-path="url(#cpv)" stroke="rgba(60,200,80,0.22)" stroke-width="1.7" fill="none"><line x1="324.20" y1="352.10" x2="324.20" y2="849.10"/><line x1="418.92" y1="352.10" x2="418.92" y2="849.10"/><line x1="513.64" y1="352.10" x2="513.64" y2="849.10"/><line x1="608.37" y1="352.10" x2="608.37" y2="849.10"/><line x1="703.09" y1="352.10" x2="703.09" y2="849.10"/><line x1="797.81" y1="352.10" x2="797.81" y2="849.10"/><line x1="892.53" y1="352.10" x2="892.53" y2="849.10"/><line x1="987.26" y1="352.10" x2="987.26" y2="849.10"/><line x1="1081.98" y1="352.10" x2="1081.98" y2="849.10"/><line x1="1176.70" y1="352.10" x2="1176.70" y2="849.10"/><line x1="1271.42" y1="352.10" x2="1271.42" y2="849.10"/><line x1="1366.14" y1="352.10" x2="1366.14" y2="849.10"/><line x1="1460.87" y1="352.10" x2="1460.87" y2="849.10"/><line x1="1555.59" y1="352.10" x2="1555.59" y2="849.10"/><line x1="1650.31" y1="352.10" x2="1650.31" y2="849.10"/><line x1="1745.03" y1="352.10" x2="1745.03" y2="849.10"/><line x1="1839.76" y1="352.10" x2="1839.76" y2="849.10"/><line x1="1934.48" y1="352.10" x2="1934.48" y2="849.10"/><line x1="2029.20" y1="352.10" x2="2029.20" y2="849.10"/><line x1="307.20" y1="352.10" x2="2029.20" y2="352.10"/><line x1="307.20" y1="412.10" x2="2029.20" y2="412.10"/><line x1="307.20" y1="472.10" x2="2029.20" y2="472.10"/><line x1="307.20" y1="532.10" x2="2029.20" y2="532.10"/><line x1="307.20" y1="592.10" x2="2029.20" y2="592.10"/><line x1="307.20" y1="652.10" x2="2029.20" y2="652.10"/><line x1="307.20" y1="712.10" x2="2029.20" y2="712.10"/><line x1="307.20" y1="772.10" x2="2029.20" y2="772.10"/><line x1="307.20" y1="832.10" x2="2029.20" y2="832.10"/><line x1="2029.20" y1="832.10" x2="2046.20" y2="832.10"/></g>
<g clip-path="url(#cev)" stroke="rgba(185,100,115,0.2)" stroke-width="1.7" fill="none"><line x1="324.20" y1="352.10" x2="324.20" y2="849.10"/><line x1="418.92" y1="352.10" x2="418.92" y2="849.10"/><line x1="513.64" y1="352.10" x2="513.64" y2="849.10"/><line x1="608.37" y1="352.10" x2="608.37" y2="849.10"/><line x1="703.09" y1="352.10" x2="703.09" y2="849.10"/><line x1="797.81" y1="352.10" x2="797.81" y2="849.10"/><line x1="892.53" y1="352.10" x2="892.53" y2="849.10"/><line x1="987.26" y1="352.10" x2="987.26" y2="849.10"/><line x1="1081.98" y1="352.10" x2="1081.98" y2="849.10"/><line x1="1176.70" y1="352.10" x2="1176.70" y2="849.10"/><line x1="1271.42" y1="352.10" x2="1271.42" y2="849.10"/><line x1="1366.14" y1="352.10" x2="1366.14" y2="849.10"/><line x1="1460.87" y1="352.10" x2="1460.87" y2="849.10"/><line x1="1555.59" y1="352.10" x2="1555.59" y2="849.10"/><line x1="1650.31" y1="352.10" x2="1650.31" y2="849.10"/><line x1="1745.03" y1="352.10" x2="1745.03" y2="849.10"/><line x1="1839.76" y1="352.10" x2="1839.76" y2="849.10"/><line x1="1934.48" y1="352.10" x2="1934.48" y2="849.10"/><line x1="2029.20" y1="352.10" x2="2029.20" y2="849.10"/><line x1="307.20" y1="352.10" x2="2029.20" y2="352.10"/><line x1="307.20" y1="412.10" x2="2029.20" y2="412.10"/><line x1="307.20" y1="472.10" x2="2029.20" y2="472.10"/><line x1="307.20" y1="532.10" x2="2029.20" y2="532.10"/><line x1="307.20" y1="592.10" x2="2029.20" y2="592.10"/><line x1="307.20" y1="652.10" x2="2029.20" y2="652.10"/><line x1="307.20" y1="712.10" x2="2029.20" y2="712.10"/><line x1="307.20" y1="772.10" x2="2029.20" y2="772.10"/><line x1="307.20" y1="832.10" x2="2029.20" y2="832.10"/><line x1="2029.20" y1="832.10" x2="2046.20" y2="832.10"/></g>
<path d="M324.20 582.20C326.09 582.62 331.97 584.76 333.67 584.30C335.76 583.74 341.14 578.37 343.14 577.10C344.93 575.97 350.68 572.42 352.62 572.30C354.47 572.18 361.33 577.33 362.09 575.90C365.12 570.13 368.52 542.18 371.56 536.30C372.30 534.86 379.20 538.55 381.03 539.30C382.99 540.11 388.64 544.16 390.51 544.10C392.43 544.04 399.16 537.27 399.98 538.70C402.95 543.87 406.69 573.17 409.45 577.10C410.48 578.57 416.66 566.67 418.92 565.70C420.45 565.05 428.15 570.83 428.39 569.00C431.94 542.15 436.03 421.40 437.87 422.30C439.82 423.26 443.77 549.12 447.34 578.30C447.56 580.08 454.91 577.22 456.81 577.10C458.70 576.98 465.05 578.22 466.28 577.10C468.84 574.80 473.67 560.46 475.76 560.00C477.46 559.62 482.88 571.00 485.23 572.90C486.66 574.06 492.82 574.76 494.70 575.30C496.61 575.84 502.23 577.93 504.17 578.30C506.02 578.65 511.86 579.30 513.64 578.90C515.65 578.46 521.20 574.16 523.12 574.10C524.99 574.04 530.61 577.80 532.59 578.30C534.40 578.76 541.16 580.25 542.06 578.90C544.95 574.55 549.67 549.71 551.53 549.80C553.45 549.89 559.13 579.86 561.01 579.80C562.92 579.74 567.57 554.18 570.48 549.20C571.35 547.70 578.62 548.58 579.95 547.40C582.40 545.22 587.57 532.31 589.42 532.40C591.36 532.49 596.39 546.08 598.89 548.30C600.18 549.44 607.49 547.76 608.37 549.20C611.28 554.00 615.93 579.44 617.84 579.50C619.72 579.56 625.38 549.92 627.31 549.80C629.17 549.68 635.30 579.66 636.78 578.30C639.09 576.18 643.10 539.93 646.26 532.40C646.89 530.87 654.41 531.91 655.73 533.00C658.20 535.03 663.83 544.75 665.20 548.00C667.62 553.75 671.76 573.53 674.67 578.00C675.55 579.35 682.25 577.10 684.14 577.10C686.04 577.10 691.75 578.15 693.62 578.00C695.54 577.85 701.27 576.29 703.09 575.60C705.06 574.85 710.76 570.60 712.56 570.80C714.55 571.02 719.94 576.97 722.03 577.70C723.73 578.29 729.61 577.43 731.51 577.40C733.40 577.37 739.08 577.40 740.98 577.40C742.87 577.40 748.56 577.40 750.45 577.40C752.34 577.40 758.03 577.49 759.92 577.40C761.82 577.31 767.50 576.47 769.39 576.50C771.29 576.53 776.97 577.55 778.87 577.70C780.75 577.85 786.44 577.97 788.34 578.00C790.23 578.03 795.92 578.00 797.81 578.00C799.71 578.00 805.39 578.00 807.28 578.00C809.18 578.00 814.86 578.00 816.76 578.00C818.65 578.00 824.34 578.06 826.23 578.00C828.12 577.94 833.86 577.14 835.70 577.40C837.65 577.68 843.23 580.42 845.17 580.70C847.01 580.96 852.75 580.16 854.64 580.10C856.54 580.04 862.22 580.13 864.12 580.10C866.01 580.07 871.69 579.83 873.59 579.80C875.48 579.77 881.17 579.77 883.06 579.80C884.96 579.83 890.64 580.04 892.53 580.10C894.43 580.16 900.11 580.40 902.01 580.40C903.90 580.40 909.58 580.13 911.48 580.10C913.37 580.07 919.06 580.10 920.95 580.10C922.84 580.10 928.53 580.10 930.42 580.10C932.32 580.10 938.00 580.13 939.89 580.10C941.79 580.07 947.47 579.83 949.37 579.80C951.26 579.77 956.94 579.80 958.84 579.80C960.73 579.80 966.42 579.80 968.31 579.80C970.21 579.80 975.89 579.80 977.78 579.80C979.68 579.80 985.36 579.77 987.26 579.80C989.15 579.83 994.83 580.07 996.73 580.10C998.62 580.13 1004.31 580.13 1006.20 580.10C1008.09 580.07 1013.78 579.80 1015.67 579.80C1017.57 579.80 1023.26 579.92 1025.14 580.10C1027.05 580.28 1032.73 581.63 1034.62 581.60C1036.52 581.57 1042.18 579.95 1044.09 579.80C1045.97 579.65 1051.67 580.07 1053.56 580.10C1055.46 580.13 1061.14 580.10 1063.03 580.10C1064.93 580.10 1070.61 580.10 1072.51 580.10C1074.40 580.10 1080.08 580.10 1081.98 580.10C1083.87 580.10 1089.56 580.10 1091.45 580.10C1093.34 580.10 1099.03 580.10 1100.92 580.10C1102.82 580.10 1108.50 580.10 1110.39 580.10C1112.29 580.10 1117.97 580.04 1119.87 580.10C1121.76 580.16 1127.50 580.96 1129.34 580.70C1131.29 580.42 1136.94 577.34 1138.81 577.40C1140.73 577.46 1147.46 582.68 1148.28 581.30C1151.25 576.32 1154.74 551.28 1157.76 545.60C1158.53 544.14 1165.53 544.98 1167.23 545.60C1169.32 546.36 1175.67 550.50 1176.70 552.50C1179.46 557.88 1183.27 578.08 1186.17 582.50C1187.05 583.84 1193.76 581.24 1195.64 581.30C1197.55 581.36 1203.21 582.89 1205.12 583.10C1206.99 583.31 1212.69 583.37 1214.59 583.40C1216.48 583.43 1222.17 583.40 1224.06 583.40C1225.96 583.40 1231.65 583.25 1233.53 583.40C1235.44 583.55 1241.16 584.40 1243.01 584.90C1244.95 585.42 1250.52 588.04 1252.48 588.50C1254.31 588.94 1261.23 590.86 1261.95 589.40C1265.02 583.18 1269.21 551.50 1271.42 550.10C1273.00 549.10 1278.05 573.58 1280.89 577.40C1281.84 578.68 1288.46 575.72 1290.37 575.60C1292.25 575.48 1298.04 576.57 1299.84 576.20C1301.83 575.79 1307.61 571.32 1309.31 571.70C1311.40 572.16 1316.61 579.50 1318.78 580.40C1320.39 581.06 1326.40 579.88 1328.26 579.50C1330.19 579.10 1335.79 576.75 1337.73 576.50C1339.58 576.27 1345.30 577.07 1347.20 577.10C1349.09 577.13 1354.78 576.86 1356.67 576.80C1358.57 576.74 1364.25 576.53 1366.14 576.50C1368.04 576.47 1373.73 576.62 1375.62 576.50C1377.52 576.38 1383.20 575.27 1385.09 575.30C1386.99 575.33 1392.66 576.59 1394.56 576.80C1396.45 577.01 1402.17 577.58 1404.03 577.40C1405.96 577.22 1411.60 575.03 1413.51 575.00C1415.39 574.97 1421.06 576.86 1422.98 577.10C1424.85 577.34 1430.56 577.46 1432.45 577.40C1434.35 577.34 1440.03 576.68 1441.92 576.50C1443.82 576.32 1449.53 575.45 1451.39 575.60C1453.31 575.75 1458.95 577.85 1460.87 578.00C1462.74 578.15 1468.44 577.22 1470.34 577.10C1472.23 576.98 1477.92 576.83 1479.81 576.80C1481.71 576.77 1487.39 576.83 1489.28 576.80C1491.18 576.77 1496.86 576.47 1498.76 576.50C1500.65 576.53 1506.33 577.10 1508.23 577.10C1510.12 577.10 1515.81 576.50 1517.70 576.50C1519.59 576.50 1525.28 576.98 1527.17 577.10C1529.07 577.22 1534.76 577.76 1536.64 577.70C1538.54 577.64 1544.22 576.56 1546.12 576.50C1548.01 576.44 1553.69 577.01 1555.59 577.10C1557.48 577.19 1563.17 577.37 1565.06 577.40C1566.96 577.43 1572.64 577.46 1574.53 577.40C1576.43 577.34 1582.30 577.45 1584.01 576.80C1586.08 576.01 1592.03 569.47 1593.48 570.20C1595.82 571.39 1601.66 587.69 1602.95 586.40C1605.45 583.91 1610.23 552.52 1612.42 551.30C1614.01 550.42 1619.12 572.07 1621.89 575.90C1622.91 577.29 1629.48 577.07 1631.37 577.40C1633.27 577.73 1638.93 579.11 1640.84 579.20C1642.72 579.29 1648.42 578.27 1650.31 578.30C1652.21 578.33 1657.88 579.35 1659.78 579.50C1661.67 579.65 1667.36 579.77 1669.26 579.80C1671.15 579.83 1676.83 579.80 1678.73 579.80C1680.62 579.80 1686.31 579.71 1688.20 579.80C1690.10 579.89 1695.87 580.19 1697.67 580.70C1699.66 581.27 1705.89 586.15 1707.14 585.20C1709.68 583.27 1714.14 567.99 1716.62 566.30C1717.93 565.41 1724.28 570.98 1726.09 572.30C1728.07 573.74 1733.50 579.67 1735.56 580.10C1737.29 580.45 1743.07 576.70 1745.03 576.20C1746.86 575.74 1752.62 575.21 1754.51 575.30C1756.41 575.39 1762.07 576.92 1763.98 577.10C1765.86 577.28 1771.56 577.13 1773.45 577.10C1775.34 577.07 1781.03 576.80 1782.92 576.80C1784.82 576.80 1790.50 577.04 1792.39 577.10C1794.29 577.16 1799.97 577.31 1801.87 577.40C1803.76 577.49 1809.45 578.06 1811.34 578.00C1813.24 577.94 1818.91 576.92 1820.81 576.80C1822.70 576.68 1828.42 576.56 1830.28 576.80C1832.21 577.04 1837.95 578.49 1839.76 579.20C1841.74 579.99 1847.50 584.63 1849.23 584.30C1851.29 583.91 1856.52 576.50 1858.70 575.60C1860.31 574.94 1866.28 576.32 1868.17 576.50C1870.07 576.68 1875.78 577.55 1877.64 577.40C1879.56 577.25 1885.22 575.03 1887.12 575.00C1889.00 574.97 1894.67 576.86 1896.59 577.10C1898.46 577.34 1904.20 577.61 1906.06 577.40C1907.98 577.19 1913.65 574.94 1915.53 575.00C1917.44 575.06 1923.07 577.75 1925.01 578.00C1926.86 578.23 1932.59 577.34 1934.48 577.40C1936.38 577.46 1942.38 579.30 1943.95 578.60C1946.17 577.62 1951.75 568.60 1953.42 569.00C1955.53 569.50 1960.60 582.08 1962.89 583.10C1964.39 583.76 1970.33 578.05 1972.37 577.40C1974.12 576.85 1979.95 577.19 1981.84 577.10C1983.73 577.01 1989.42 576.47 1991.31 576.50C1993.21 576.53 1998.89 577.28 2000.78 577.40C2002.67 577.52 2008.36 577.70 2010.26 577.70C2012.15 577.70 2017.83 577.46 2019.73 577.40C2021.62 577.34 2027.31 577.16 2029.20 577.10" fill="none" stroke="rgba(0,0,0,0.7)" stroke-width="3.4" stroke-linejoin="miter"/>
<line x1="324.20" y1="467.30" x2="2029.20" y2="467.30" stroke="rgba(0,0,245,0.5)" stroke-width="3.4" stroke-dasharray="17 8.5"/>
<path d="M324.20 489.50C326.09 486.08 331.82 472.31 333.67 472.40C335.60 472.49 342.60 493.36 343.14 490.40C346.39 472.66 349.15 389.97 352.62 368.90C352.94 366.93 361.54 373.09 362.09 375.20C365.33 387.73 369.60 428.73 371.56 442.10C373.39 454.59 377.92 495.87 381.03 504.50C381.71 506.37 388.97 493.97 390.51 494.60C392.76 495.53 397.44 509.56 399.98 512.30C401.22 513.64 407.52 514.63 409.45 515.00C411.31 515.35 417.03 515.72 418.92 515.90C420.82 516.08 426.50 516.59 428.39 516.80C430.29 517.01 435.97 517.76 437.87 518.00C439.76 518.24 445.44 518.99 447.34 519.20C449.23 519.41 454.94 519.80 456.81 520.10C458.72 520.40 464.40 521.75 466.28 522.20C468.18 522.65 473.85 524.18 475.76 524.60C477.64 525.02 483.35 525.95 485.23 526.40C487.14 526.85 492.80 528.59 494.70 529.10C496.59 529.61 502.29 530.99 504.17 531.50C506.07 532.01 511.74 533.69 513.64 534.20C515.53 534.71 521.22 536.15 523.12 536.60C525.00 537.05 530.67 538.43 532.59 538.70C534.46 538.97 540.17 539.36 542.06 539.30C543.96 539.24 549.64 538.37 551.53 538.10C553.43 537.83 559.10 536.81 561.01 536.60C562.89 536.39 568.59 535.97 570.48 536.00C572.37 536.03 578.07 536.63 579.95 536.90C581.86 537.17 587.53 538.34 589.42 538.70C591.32 539.06 596.99 540.17 598.89 540.50C600.78 540.83 606.46 541.76 608.37 542.00C610.25 542.24 615.94 542.81 617.84 542.90C619.73 542.99 625.43 543.08 627.31 542.90C629.22 542.72 634.88 541.43 636.78 541.10C638.67 540.77 645.92 541.37 646.26 539.60C649.71 521.57 653.50 461.56 655.73 442.10C657.29 428.50 661.88 385.93 665.20 374.30C665.67 372.67 672.77 375.65 674.67 375.80C676.55 375.95 682.25 375.83 684.14 375.80C686.04 375.77 691.72 375.56 693.62 375.50C695.51 375.44 701.20 375.11 703.09 375.20C704.99 375.29 710.66 376.37 712.56 376.40C714.45 376.43 720.13 375.59 722.03 375.50C723.92 375.41 729.61 375.47 731.51 375.50C733.40 375.53 739.08 375.77 740.98 375.80C742.87 375.83 748.56 375.80 750.45 375.80C752.34 375.80 758.03 375.77 759.92 375.80C761.82 375.83 767.50 376.04 769.39 376.10C771.29 376.16 776.97 376.37 778.87 376.40C780.76 376.43 786.44 376.37 788.34 376.40C790.23 376.43 795.92 376.67 797.81 376.70C799.71 376.73 805.39 376.73 807.28 376.70C809.18 376.67 814.86 376.46 816.76 376.40C818.65 376.34 824.33 376.07 826.23 376.10C828.12 376.13 833.81 376.55 835.70 376.70C837.60 376.85 843.27 377.48 845.17 377.60C847.06 377.72 852.75 377.84 854.64 377.90C856.54 377.96 862.22 378.14 864.12 378.20C866.01 378.26 871.69 378.44 873.59 378.50C875.48 378.56 881.17 378.74 883.06 378.80C884.96 378.86 890.64 378.98 892.53 379.10C894.43 379.22 900.11 380.03 902.01 380.00C903.90 379.97 909.58 378.92 911.48 378.80C913.36 378.68 919.06 378.80 920.95 378.80C922.84 378.80 928.53 378.80 930.42 378.80C932.32 378.80 938.00 378.80 939.89 378.80C941.79 378.80 947.47 378.77 949.37 378.80C951.26 378.83 956.94 379.07 958.84 379.10C960.73 379.13 966.42 379.07 968.31 379.10C970.21 379.13 975.89 379.37 977.78 379.40C979.68 379.43 985.36 379.40 987.26 379.40C989.15 379.40 994.83 379.37 996.73 379.40C998.62 379.43 1004.31 379.67 1006.20 379.70C1008.09 379.73 1013.78 379.67 1015.67 379.70C1017.57 379.73 1023.25 379.88 1025.14 380.00C1027.04 380.12 1032.73 380.99 1034.62 380.90C1036.52 380.81 1042.18 379.25 1044.09 379.10C1045.97 378.95 1051.67 379.37 1053.56 379.40C1055.46 379.43 1061.14 379.40 1063.03 379.40C1064.93 379.40 1070.61 379.34 1072.51 379.40C1074.40 379.46 1080.08 379.91 1081.98 380.00C1083.87 380.09 1089.56 380.27 1091.45 380.30C1093.34 380.33 1099.03 380.30 1100.92 380.30C1102.82 380.30 1108.50 380.30 1110.39 380.30C1112.29 380.30 1117.98 380.39 1119.87 380.30C1121.77 380.21 1127.64 378.86 1129.34 379.40C1131.43 380.06 1137.05 386.55 1138.81 386.30C1140.84 386.01 1146.09 377.54 1148.28 376.70C1149.88 376.10 1157.25 377.36 1157.76 379.10C1161.03 390.26 1165.40 428.77 1167.23 441.20C1169.19 454.57 1174.36 494.80 1176.70 508.10C1178.15 516.34 1183.08 542.35 1186.17 548.90C1186.87 550.39 1193.76 548.48 1195.64 548.30C1197.54 548.12 1203.23 547.40 1205.12 547.10C1207.02 546.80 1212.70 545.69 1214.59 545.30C1216.49 544.91 1222.17 543.62 1224.06 543.20C1225.96 542.78 1231.65 541.55 1233.53 541.10C1235.43 540.65 1241.85 540.07 1243.01 538.70C1245.64 535.57 1251.46 522.89 1252.48 518.60C1255.24 506.99 1260.24 471.11 1261.95 459.20C1264.03 444.77 1268.27 400.80 1271.42 386.90C1272.05 384.12 1278.60 377.00 1280.89 375.80C1282.39 375.02 1288.49 376.67 1290.37 377.00C1292.28 377.33 1298.78 377.69 1299.84 379.10C1302.57 382.73 1307.10 401.25 1309.31 402.20C1310.89 402.87 1316.36 388.69 1318.78 387.20C1320.15 386.35 1326.40 390.62 1328.26 390.50C1330.19 390.38 1335.74 386.47 1337.73 386.00C1339.53 385.57 1345.31 386.00 1347.20 386.00C1349.09 386.00 1354.78 385.94 1356.67 386.00C1358.57 386.06 1364.25 386.48 1366.14 386.60C1368.04 386.72 1373.72 387.08 1375.62 387.20C1377.51 387.32 1383.19 387.71 1385.09 387.80C1386.98 387.89 1392.67 388.07 1394.56 388.10C1396.46 388.13 1402.14 388.13 1404.03 388.10C1405.93 388.07 1411.61 387.86 1413.51 387.80C1415.40 387.74 1421.08 387.53 1422.98 387.50C1424.87 387.47 1430.56 387.50 1432.45 387.50C1434.34 387.50 1440.03 387.44 1441.92 387.50C1443.82 387.56 1449.50 387.98 1451.39 388.10C1453.29 388.22 1458.97 388.73 1460.87 388.70C1462.76 388.67 1468.44 387.86 1470.34 387.80C1472.23 387.74 1477.92 388.04 1479.81 388.10C1481.71 388.16 1487.39 388.31 1489.28 388.40C1491.18 388.49 1496.86 388.85 1498.76 389.00C1500.65 389.15 1506.33 389.84 1508.23 389.90C1510.12 389.96 1515.81 389.60 1517.70 389.60C1519.59 389.60 1525.28 389.84 1527.17 389.90C1529.07 389.96 1534.76 390.29 1536.64 390.20C1538.55 390.11 1544.22 389.24 1546.12 389.00C1548.01 388.76 1553.69 387.92 1555.59 387.80C1557.48 387.68 1563.17 387.89 1565.06 387.80C1566.96 387.71 1572.66 387.20 1574.53 386.90C1576.45 386.60 1583.73 383.04 1584.01 384.80C1587.52 407.22 1590.96 499.57 1593.48 507.80C1594.74 511.93 1600.89 458.81 1602.95 446.60C1604.68 436.31 1611.51 389.86 1612.42 395.30C1615.30 412.48 1618.32 528.21 1621.89 559.70C1622.11 561.57 1629.44 561.83 1631.37 562.10C1633.23 562.37 1638.94 562.40 1640.84 562.40C1642.73 562.40 1648.42 562.19 1650.31 562.10C1652.21 562.01 1657.90 561.71 1659.78 561.50C1661.69 561.29 1667.39 560.41 1669.26 560.00C1671.18 559.57 1676.87 557.95 1678.73 557.30C1680.66 556.63 1686.30 554.15 1688.20 553.40C1690.08 552.65 1696.62 551.37 1697.67 549.80C1700.41 545.73 1706.26 530.36 1707.14 525.20C1710.04 508.34 1713.84 447.89 1716.62 439.70C1717.62 436.73 1724.96 471.98 1726.09 469.40C1728.75 463.28 1732.69 410.57 1735.56 396.20C1736.48 391.61 1742.35 377.36 1745.03 374.60C1746.14 373.46 1752.59 376.46 1754.51 376.70C1756.38 376.94 1762.08 376.94 1763.98 377.00C1765.87 377.06 1771.56 377.24 1773.45 377.30C1775.34 377.36 1781.03 377.51 1782.92 377.60C1784.82 377.69 1790.50 378.11 1792.39 378.20C1794.29 378.29 1799.97 378.53 1801.87 378.50C1803.76 378.47 1809.48 378.22 1811.34 377.90C1813.27 377.56 1820.54 373.42 1820.81 375.20C1824.33 398.20 1828.36 501.47 1830.28 501.80C1832.15 502.13 1836.36 398.74 1839.76 378.50C1840.14 376.18 1847.26 388.84 1849.23 389.00C1851.05 389.14 1856.52 380.83 1858.70 380.00C1860.31 379.39 1866.30 381.35 1868.17 381.80C1870.09 382.25 1875.73 384.05 1877.64 384.50C1879.52 384.95 1885.84 385.07 1887.12 386.30C1889.63 388.73 1894.55 402.44 1896.59 402.80C1898.33 403.10 1903.68 391.03 1906.06 389.60C1907.47 388.75 1913.64 391.04 1915.53 391.40C1917.43 391.76 1923.09 393.05 1925.01 393.20C1926.88 393.35 1932.59 393.08 1934.48 392.90C1936.38 392.72 1942.87 390.22 1943.95 391.40C1946.66 394.36 1951.20 412.65 1953.42 413.60C1954.99 414.27 1960.74 402.10 1962.89 399.50C1964.53 397.54 1970.19 391.73 1972.37 390.80C1973.98 390.11 1979.94 391.28 1981.84 391.40C1983.73 391.52 1989.42 391.88 1991.31 392.00C1993.21 392.12 1998.89 392.54 2000.78 392.60C2002.68 392.66 2008.37 392.69 2010.26 392.60C2012.15 392.51 2017.83 391.85 2019.73 391.70C2021.62 391.55 2027.31 391.22 2029.20 391.10" fill="none" stroke="rgb(140,246,112)" stroke-width="1.7"/>
<path d="M324.20 557.60C326.09 561.50 333.04 572.85 333.67 577.10C336.83 598.23 341.28 663.02 343.14 684.50C345.07 706.70 349.14 775.81 352.62 795.50C352.93 797.29 361.78 793.81 362.09 791.90C365.57 770.53 369.00 701.57 371.56 679.10C372.79 668.27 378.19 631.11 381.03 625.40C381.98 623.49 388.86 641.55 390.51 641.00C392.65 640.29 398.47 618.07 399.98 619.10C402.26 620.65 406.80 650.75 409.45 653.90C410.59 655.25 416.59 642.86 418.92 641.60C420.38 640.82 428.16 645.49 428.39 643.70C431.95 616.51 436.02 495.94 437.87 496.70C439.81 497.50 443.78 622.90 447.34 651.50C447.57 653.32 454.91 649.31 456.81 648.80C458.70 648.29 465.08 647.74 466.28 646.40C468.86 643.54 473.50 628.77 475.76 627.80C477.29 627.15 482.96 637.04 485.23 638.30C486.75 639.14 492.81 638.21 494.70 638.30C496.60 638.39 502.33 639.43 504.17 639.20C506.12 638.95 511.88 636.82 513.64 635.90C515.67 634.84 521.06 629.75 523.12 629.30C524.85 628.91 530.67 631.52 532.59 631.70C534.46 631.88 541.13 632.48 542.06 631.10C544.92 626.84 549.74 603.16 551.53 603.50C553.53 603.88 559.07 634.55 561.01 634.70C562.86 634.85 567.59 609.89 570.48 605.00C571.38 603.47 578.64 603.86 579.95 602.60C582.43 600.20 587.38 587.06 589.42 586.70C591.16 586.40 596.53 597.73 598.89 599.30C600.32 600.25 607.48 597.92 608.37 599.30C611.27 603.80 615.94 628.70 617.84 628.70C619.73 628.70 625.43 599.24 627.31 599.30C629.22 599.36 635.22 630.44 636.78 629.30C639.01 627.68 645.58 579.71 646.26 585.50C649.37 612.17 652.40 760.23 655.73 791.60C656.19 795.99 663.40 763.99 665.20 764.30C667.19 764.65 671.75 790.37 674.67 794.90C675.54 796.25 682.24 793.82 684.14 793.70C686.03 793.58 691.73 793.85 693.62 793.70C695.52 793.55 701.34 792.89 703.09 792.20C705.13 791.39 710.75 786.03 712.56 786.20C714.54 786.39 719.90 793.15 722.03 794.00C723.68 794.65 729.61 793.73 731.51 793.70C733.40 793.67 739.08 793.70 740.98 793.70C742.87 793.70 748.56 793.70 750.45 793.70C752.34 793.70 758.04 793.82 759.92 793.70C761.82 793.58 767.50 792.53 769.39 792.50C771.29 792.47 776.97 793.37 778.87 793.40C780.76 793.43 786.44 792.86 788.34 792.80C790.23 792.74 795.92 792.80 797.81 792.80C799.71 792.80 805.39 792.80 807.28 792.80C809.18 792.80 814.86 792.80 816.76 792.80C818.65 792.80 824.34 792.86 826.23 792.80C828.12 792.74 833.84 791.99 835.70 792.20C837.63 792.41 843.24 794.69 845.17 794.90C847.03 795.11 852.75 794.42 854.64 794.30C856.54 794.18 862.22 793.85 864.12 793.70C866.01 793.55 871.69 792.95 873.59 792.80C875.48 792.65 881.16 792.26 883.06 792.20C884.95 792.14 890.64 792.20 892.53 792.20C894.43 792.20 900.11 792.20 902.01 792.20C903.90 792.20 909.58 792.20 911.48 792.20C913.37 792.20 919.06 792.20 920.95 792.20C922.84 792.20 928.53 792.11 930.42 792.20C932.32 792.29 938.00 793.01 939.89 793.10C941.78 793.19 947.47 793.10 949.37 793.10C951.26 793.10 956.94 793.10 958.84 793.10C960.73 793.10 966.42 793.16 968.31 793.10C970.21 793.04 975.89 792.56 977.78 792.50C979.68 792.44 985.36 792.50 987.26 792.50C989.15 792.50 994.83 792.50 996.73 792.50C998.62 792.50 1004.31 792.59 1006.20 792.50C1008.10 792.41 1013.78 791.60 1015.67 791.60C1017.57 791.60 1023.25 792.35 1025.14 792.50C1027.04 792.65 1032.72 793.01 1034.62 793.10C1036.51 793.19 1042.19 793.37 1044.09 793.40C1045.98 793.43 1051.67 793.49 1053.56 793.40C1055.46 793.31 1061.13 792.59 1063.03 792.50C1064.92 792.41 1070.61 792.50 1072.51 792.50C1074.40 792.50 1080.08 792.50 1081.98 792.50C1083.87 792.50 1089.56 792.50 1091.45 792.50C1093.34 792.50 1099.03 792.50 1100.92 792.50C1102.82 792.50 1108.50 792.50 1110.39 792.50C1112.29 792.50 1117.97 792.44 1119.87 792.50C1121.76 792.56 1127.79 793.86 1129.34 793.10C1131.58 792.00 1137.06 782.92 1138.81 783.20C1140.85 783.52 1147.19 797.57 1148.28 796.10C1150.98 792.47 1155.16 765.09 1157.76 757.70C1158.95 754.29 1166.67 745.66 1167.23 742.10C1170.45 721.66 1173.39 658.02 1176.70 637.70C1177.18 634.74 1183.84 627.33 1186.17 625.70C1187.63 624.69 1193.79 624.32 1195.64 624.50C1197.58 624.68 1203.19 627.01 1205.12 627.50C1206.98 627.97 1212.69 628.94 1214.59 629.30C1216.48 629.66 1222.18 630.68 1224.06 631.10C1225.97 631.52 1231.65 632.96 1233.53 633.50C1235.44 634.04 1241.96 634.99 1243.01 636.50C1245.75 640.45 1251.55 655.70 1252.48 660.80C1255.34 676.46 1258.77 724.93 1261.95 740.30C1262.56 743.23 1270.41 749.48 1271.42 752.30C1274.20 760.04 1277.82 786.87 1280.89 793.10C1281.61 794.55 1288.47 791.15 1290.37 790.70C1292.25 790.25 1298.88 790.07 1299.84 788.60C1302.67 784.25 1307.29 762.02 1309.31 761.60C1311.08 761.24 1316.10 781.98 1318.78 784.70C1319.89 785.82 1326.30 781.05 1328.26 780.80C1330.09 780.57 1335.82 782.09 1337.73 782.30C1339.61 782.51 1345.31 782.90 1347.20 782.90C1349.09 782.90 1354.78 782.42 1356.67 782.30C1358.57 782.18 1364.25 781.79 1366.14 781.70C1368.04 781.61 1373.74 781.61 1375.62 781.40C1377.53 781.19 1383.19 779.66 1385.09 779.60C1386.97 779.54 1392.66 780.62 1394.56 780.80C1396.45 780.98 1402.17 781.58 1404.03 781.40C1405.96 781.22 1411.61 779.00 1413.51 779.00C1415.40 779.00 1421.05 781.16 1422.98 781.40C1424.84 781.64 1430.56 781.49 1432.45 781.40C1434.35 781.31 1440.03 780.71 1441.92 780.50C1443.82 780.29 1449.50 779.27 1451.39 779.30C1453.29 779.33 1458.96 780.62 1460.87 780.80C1462.75 780.98 1468.44 781.10 1470.34 781.10C1472.23 781.10 1477.92 780.89 1479.81 780.80C1481.71 780.71 1487.39 780.32 1489.28 780.20C1491.18 780.08 1496.86 779.72 1498.76 779.60C1500.65 779.48 1506.33 779.06 1508.23 779.00C1510.12 778.94 1515.81 779.00 1517.70 779.00C1519.59 779.00 1525.28 778.97 1527.17 779.00C1529.07 779.03 1534.75 779.24 1536.64 779.30C1538.54 779.36 1544.23 779.42 1546.12 779.60C1548.02 779.78 1553.68 780.92 1555.59 781.10C1557.47 781.28 1563.17 781.28 1565.06 781.40C1566.96 781.52 1572.65 782.03 1574.53 782.30C1576.44 782.57 1583.74 785.87 1584.01 784.10C1587.53 760.25 1591.09 661.00 1593.48 654.20C1594.88 650.20 1599.97 715.26 1602.95 730.10C1603.75 734.10 1611.94 751.52 1612.42 748.40C1615.73 727.04 1618.35 634.28 1621.89 607.70C1622.13 605.90 1629.50 606.35 1631.37 606.50C1633.29 606.65 1638.91 609.05 1640.84 609.20C1642.70 609.35 1648.43 607.94 1650.31 608.00C1652.21 608.06 1657.89 609.44 1659.78 609.80C1661.68 610.16 1667.40 611.10 1669.26 611.60C1671.19 612.12 1676.86 614.16 1678.73 614.90C1680.65 615.66 1686.31 618.26 1688.20 619.10C1690.09 619.94 1696.69 621.63 1697.67 623.30C1700.48 628.11 1706.00 645.68 1707.14 651.50C1709.79 664.88 1713.90 713.18 1716.62 719.30C1717.69 721.70 1725.14 691.35 1726.09 694.10C1728.93 702.33 1732.59 758.49 1735.56 774.20C1736.38 778.53 1742.45 792.13 1745.03 794.30C1746.24 795.31 1752.54 790.35 1754.51 790.10C1756.33 789.87 1762.07 791.75 1763.98 791.90C1765.86 792.05 1771.56 791.72 1773.45 791.60C1775.35 791.48 1781.03 790.85 1782.92 790.70C1784.81 790.55 1790.50 790.16 1792.39 790.10C1794.29 790.04 1799.98 789.95 1801.87 790.10C1803.77 790.25 1809.46 791.21 1811.34 791.60C1813.25 791.99 1820.50 795.75 1820.81 794.00C1824.29 774.09 1828.38 683.45 1830.28 683.30C1832.16 683.15 1836.32 773.78 1839.76 792.50C1840.11 794.42 1847.18 787.02 1849.23 786.50C1850.97 786.06 1856.80 787.67 1858.70 787.70C1860.59 787.73 1866.31 787.15 1868.17 786.80C1870.10 786.43 1875.77 784.69 1877.64 784.10C1879.56 783.49 1885.75 782.12 1887.12 780.80C1889.54 778.46 1894.64 765.92 1896.59 765.80C1898.43 765.68 1903.71 778.37 1906.06 779.60C1907.50 780.35 1913.57 776.07 1915.53 775.70C1917.35 775.35 1923.11 775.94 1925.01 776.00C1926.90 776.06 1932.61 776.06 1934.48 776.30C1936.39 776.54 1943.08 779.73 1943.95 778.40C1946.86 773.97 1951.43 747.85 1953.42 747.50C1955.22 747.19 1960.07 770.50 1962.89 775.10C1963.86 776.68 1970.42 778.06 1972.37 778.40C1974.21 778.72 1979.95 778.46 1981.84 778.40C1983.74 778.34 1991.05 779.57 1991.31 777.80C1994.84 753.41 1997.25 671.64 2000.78 647.60C2001.04 645.84 2008.36 648.59 2010.26 648.80C2012.15 649.01 2017.83 649.52 2019.73 649.70C2021.62 649.88 2027.31 650.42 2029.20 650.60" fill="none" stroke="rgba(234,51,35,0.75)" stroke-width="1.7"/>
<path d="M324.20 464.00C326.09 463.94 333.41 461.94 333.67 463.70C337.20 487.56 339.62 568.18 343.14 592.10C343.40 593.86 350.72 592.10 352.62 592.10C354.51 592.10 360.19 592.10 362.09 592.10C363.98 592.10 369.67 592.10 371.56 592.10C373.46 592.10 379.14 592.10 381.03 592.10C382.93 592.10 388.61 592.10 390.51 592.10C392.40 592.10 398.08 592.10 399.98 592.10C401.87 592.10 407.56 592.10 409.45 592.10C411.34 592.10 417.03 592.10 418.92 592.10C420.82 592.10 426.50 592.10 428.39 592.10C430.29 592.10 435.97 592.10 437.87 592.10C439.76 592.10 445.44 592.10 447.34 592.10C449.23 592.10 454.92 592.10 456.81 592.10C458.71 592.10 464.39 592.10 466.28 592.10C468.18 592.10 473.86 592.10 475.76 592.10C477.65 592.10 483.33 592.10 485.23 592.10C487.12 592.10 492.81 592.10 494.70 592.10C496.59 592.10 502.28 592.10 504.17 592.10C506.07 592.10 511.75 592.10 513.64 592.10C515.54 592.10 521.22 592.10 523.12 592.10C525.01 592.10 530.69 592.10 532.59 592.10C534.48 592.10 540.17 592.10 542.06 592.10C543.96 592.10 549.64 592.10 551.53 592.10C553.43 592.10 559.11 592.10 561.01 592.10C562.90 592.10 568.58 592.10 570.48 592.10C572.37 592.10 578.06 592.10 579.95 592.10C581.84 592.10 587.53 592.10 589.42 592.10C591.32 592.10 597.00 592.10 598.89 592.10C600.79 592.10 606.47 592.10 608.37 592.10C610.26 592.10 615.94 592.10 617.84 592.10C619.73 592.10 625.42 592.10 627.31 592.10C629.21 592.10 634.89 592.10 636.78 592.10C638.68 592.10 644.36 592.10 646.26 592.10C648.15 592.10 653.83 592.10 655.73 592.10C657.62 592.10 663.31 592.10 665.20 592.10C667.09 592.10 672.78 592.10 674.67 592.10C676.57 592.10 682.25 592.10 684.14 592.10C686.04 592.10 691.72 592.10 693.62 592.10C695.51 592.10 701.19 592.10 703.09 592.10C704.98 592.10 710.67 592.10 712.56 592.10C714.46 592.10 720.14 592.10 722.03 592.10C723.93 592.10 729.61 592.10 731.51 592.10C733.40 592.10 739.08 592.10 740.98 592.10C742.87 592.10 748.56 592.10 750.45 592.10C752.34 592.10 758.03 592.10 759.92 592.10C761.82 592.10 767.50 592.10 769.39 592.10C771.29 592.10 776.97 592.10 778.87 592.10C780.76 592.10 786.44 592.10 788.34 592.10C790.23 592.10 795.92 592.10 797.81 592.10C799.71 592.10 805.39 592.10 807.28 592.10C809.18 592.10 814.86 592.10 816.76 592.10C818.65 592.10 824.33 592.10 826.23 592.10C828.12 592.10 833.81 592.10 835.70 592.10C837.59 592.10 843.28 592.10 845.17 592.10C847.07 592.10 852.75 592.10 854.64 592.10C856.54 592.10 862.22 592.10 864.12 592.10C866.01 592.10 871.69 592.10 873.59 592.10C875.48 592.10 881.17 592.10 883.06 592.10C884.96 592.10 890.64 592.10 892.53 592.10C894.43 592.10 900.11 592.10 902.01 592.10C903.90 592.10 909.58 592.10 911.48 592.10C913.37 592.10 919.06 592.10 920.95 592.10C922.84 592.10 928.53 592.10 930.42 592.10C932.32 592.10 938.00 592.10 939.89 592.10C941.79 592.10 947.47 592.10 949.37 592.10C951.26 592.10 956.94 592.10 958.84 592.10C960.73 592.10 966.42 592.10 968.31 592.10C970.21 592.10 975.89 592.10 977.78 592.10C979.68 592.10 985.36 592.10 987.26 592.10C989.15 592.10 994.83 592.10 996.73 592.10C998.62 592.10 1004.31 592.10 1006.20 592.10C1008.09 592.10 1013.78 592.10 1015.67 592.10C1017.57 592.10 1023.25 592.10 1025.14 592.10C1027.04 592.10 1032.72 592.10 1034.62 592.10C1036.51 592.10 1042.19 592.10 1044.09 592.10C1045.98 592.10 1051.67 592.10 1053.56 592.10C1055.46 592.10 1061.14 592.10 1063.03 592.10C1064.93 592.10 1070.61 592.10 1072.51 592.10C1074.40 592.10 1080.08 592.10 1081.98 592.10C1083.87 592.10 1089.56 592.10 1091.45 592.10C1093.34 592.10 1099.03 592.10 1100.92 592.10C1102.82 592.10 1108.50 592.10 1110.39 592.10C1112.29 592.10 1117.97 592.10 1119.87 592.10C1121.76 592.10 1127.44 592.10 1129.34 592.10C1131.23 592.10 1136.92 592.10 1138.81 592.10C1140.71 592.10 1146.39 592.10 1148.28 592.10C1150.18 592.10 1155.86 592.10 1157.76 592.10C1159.65 592.10 1165.33 592.10 1167.23 592.10C1169.12 592.10 1174.81 592.10 1176.70 592.10C1178.59 592.10 1184.28 592.10 1186.17 592.10C1188.07 592.10 1193.75 592.10 1195.64 592.10C1197.54 592.10 1203.22 592.10 1205.12 592.10C1207.01 592.10 1212.69 592.10 1214.59 592.10C1216.48 592.10 1222.17 592.10 1224.06 592.10C1225.96 592.10 1231.64 592.10 1233.53 592.10C1235.43 592.10 1241.11 592.10 1243.01 592.10C1244.90 592.10 1250.58 592.10 1252.48 592.10C1254.37 592.10 1260.06 592.10 1261.95 592.10C1263.84 592.10 1269.53 592.10 1271.42 592.10C1273.32 592.10 1279.00 592.10 1280.89 592.10C1282.79 592.10 1288.47 592.10 1290.37 592.10C1292.26 592.10 1297.94 592.10 1299.84 592.10C1301.73 592.10 1307.42 592.10 1309.31 592.10C1311.21 592.10 1316.89 592.10 1318.78 592.10C1320.68 592.10 1326.36 592.10 1328.26 592.10C1330.15 592.10 1335.83 592.10 1337.73 592.10C1339.62 592.10 1345.31 592.10 1347.20 592.10C1349.09 592.10 1354.78 592.10 1356.67 592.10C1358.57 592.10 1364.25 592.10 1366.14 592.10C1368.04 592.10 1373.72 592.10 1375.62 592.10C1377.51 592.10 1383.19 592.10 1385.09 592.10C1386.98 592.10 1392.67 592.10 1394.56 592.10C1396.46 592.10 1402.14 592.10 1404.03 592.10C1405.93 592.10 1411.61 592.10 1413.51 592.10C1415.40 592.10 1421.08 592.10 1422.98 592.10C1424.87 592.10 1430.56 592.10 1432.45 592.10C1434.34 592.10 1440.03 592.10 1441.92 592.10C1443.82 592.10 1449.50 592.10 1451.39 592.10C1453.29 592.10 1458.97 592.10 1460.87 592.10C1462.76 592.10 1468.44 592.10 1470.34 592.10C1472.23 592.10 1477.92 592.10 1479.81 592.10C1481.71 592.10 1487.39 592.10 1489.28 592.10C1491.18 592.10 1496.86 592.10 1498.76 592.10C1500.65 592.10 1506.33 592.10 1508.23 592.10C1510.12 592.10 1515.81 592.10 1517.70 592.10C1519.59 592.10 1525.28 592.10 1527.17 592.10C1529.07 592.10 1534.75 592.10 1536.64 592.10C1538.54 592.10 1544.22 592.10 1546.12 592.10C1548.01 592.10 1553.69 592.10 1555.59 592.10C1557.48 592.10 1563.17 592.10 1565.06 592.10C1566.96 592.10 1572.64 592.10 1574.53 592.10C1576.43 592.10 1582.11 592.10 1584.01 592.10C1585.90 592.10 1591.58 592.10 1593.48 592.10C1595.37 592.10 1601.06 592.10 1602.95 592.10C1604.84 592.10 1610.53 592.10 1612.42 592.10C1614.32 592.10 1620.00 592.10 1621.89 592.10C1623.79 592.10 1629.47 592.10 1631.37 592.10C1633.26 592.10 1638.94 592.10 1640.84 592.10C1642.73 592.10 1648.42 592.10 1650.31 592.10C1652.21 592.10 1657.89 592.10 1659.78 592.10C1661.68 592.10 1667.36 592.10 1669.26 592.10C1671.15 592.10 1676.83 592.10 1678.73 592.10C1680.62 592.10 1686.31 592.10 1688.20 592.10C1690.09 592.10 1695.78 592.10 1697.67 592.10C1699.57 592.10 1705.25 592.10 1707.14 592.10C1709.04 592.10 1714.72 592.10 1716.62 592.10C1718.51 592.10 1724.19 592.10 1726.09 592.10C1727.98 592.10 1733.67 592.10 1735.56 592.10C1737.46 592.10 1743.14 592.10 1745.03 592.10C1746.93 592.10 1752.61 592.10 1754.51 592.10C1756.40 592.10 1762.08 592.10 1763.98 592.10C1765.87 592.10 1771.56 592.10 1773.45 592.10C1775.34 592.10 1781.03 592.10 1782.92 592.10C1784.82 592.10 1790.50 592.10 1792.39 592.10C1794.29 592.10 1799.97 592.10 1801.87 592.10C1803.76 592.10 1809.44 592.10 1811.34 592.10C1813.23 592.10 1818.92 592.10 1820.81 592.10C1822.71 592.10 1828.39 592.10 1830.28 592.10C1832.18 592.10 1837.86 592.10 1839.76 592.10C1841.65 592.10 1847.33 592.10 1849.23 592.10C1851.12 592.10 1856.81 592.10 1858.70 592.10C1860.59 592.10 1866.28 592.10 1868.17 592.10C1870.07 592.10 1875.75 592.10 1877.64 592.10C1879.54 592.10 1885.22 592.10 1887.12 592.10C1889.01 592.10 1894.69 592.10 1896.59 592.10C1898.48 592.10 1904.17 592.10 1906.06 592.10C1907.96 592.10 1913.64 592.10 1915.53 592.10C1917.43 592.10 1923.11 592.10 1925.01 592.10C1926.90 592.10 1932.58 592.10 1934.48 592.10C1936.37 592.10 1942.06 592.10 1943.95 592.10C1945.84 592.10 1951.53 592.10 1953.42 592.10C1955.32 592.10 1961.00 592.10 1962.89 592.10C1964.79 592.10 1970.47 592.10 1972.37 592.10C1974.26 592.10 1979.94 592.10 1981.84 592.10C1983.73 592.10 1991.05 593.86 1991.31 592.10C1994.84 568.12 1997.25 487.20 2000.78 463.40C2001.04 461.64 2008.36 464.21 2010.26 464.30C2012.15 464.39 2017.83 464.30 2019.73 464.30C2021.62 464.30 2027.31 464.30 2029.20 464.30" fill="none" stroke="rgba(50,30,105,0.7)" stroke-width="3.4"/>
<path d="M324.20 592.10C326.09 592.10 331.78 592.10 333.67 592.10C335.57 592.10 341.25 592.10 343.14 592.10C345.04 592.10 350.72 592.10 352.62 592.10C354.51 592.10 360.19 592.10 362.09 592.10C363.98 592.10 369.67 592.10 371.56 592.10C373.46 592.10 379.14 592.10 381.03 592.10C382.93 592.10 388.61 592.10 390.51 592.10C392.40 592.10 398.08 592.10 399.98 592.10C401.87 592.10 407.56 592.10 409.45 592.10C411.34 592.10 417.03 592.10 418.92 592.10C420.82 592.10 426.50 592.10 428.39 592.10C430.29 592.10 435.97 592.10 437.87 592.10C439.76 592.10 445.44 592.10 447.34 592.10C449.23 592.10 454.92 592.10 456.81 592.10C458.71 592.10 464.39 592.10 466.28 592.10C468.18 592.10 473.86 592.10 475.76 592.10C477.65 592.10 483.33 592.10 485.23 592.10C487.12 592.10 492.81 592.10 494.70 592.10C496.59 592.10 502.28 592.10 504.17 592.10C506.07 592.10 511.75 592.10 513.64 592.10C515.54 592.10 521.22 592.10 523.12 592.10C525.01 592.10 530.69 592.10 532.59 592.10C534.48 592.10 540.17 592.10 542.06 592.10C543.96 592.10 549.64 592.10 551.53 592.10C553.43 592.10 559.11 592.10 561.01 592.10C562.90 592.10 568.58 592.10 570.48 592.10C572.37 592.10 578.06 592.10 579.95 592.10C581.84 592.10 587.53 592.10 589.42 592.10C591.32 592.10 597.00 592.10 598.89 592.10C600.79 592.10 606.47 592.10 608.37 592.10C610.26 592.10 615.94 592.10 617.84 592.10C619.73 592.10 625.42 592.10 627.31 592.10C629.21 592.10 634.89 592.10 636.78 592.10C638.68 592.10 644.36 592.10 646.26 592.10C648.15 592.10 653.83 592.10 655.73 592.10C657.62 592.10 663.31 592.10 665.20 592.10C667.09 592.10 672.78 592.10 674.67 592.10C676.57 592.10 682.25 592.10 684.14 592.10C686.04 592.10 691.72 592.10 693.62 592.10C695.51 592.10 701.19 592.10 703.09 592.10C704.98 592.10 710.67 592.10 712.56 592.10C714.46 592.10 720.14 592.10 722.03 592.10C723.93 592.10 729.61 592.10 731.51 592.10C733.40 592.10 739.08 592.10 740.98 592.10C742.87 592.10 748.56 592.10 750.45 592.10C752.34 592.10 758.03 592.10 759.92 592.10C761.82 592.10 767.50 592.10 769.39 592.10C771.29 592.10 776.97 592.10 778.87 592.10C780.76 592.10 786.44 592.10 788.34 592.10C790.23 592.10 795.92 592.10 797.81 592.10C799.71 592.10 805.39 592.10 807.28 592.10C809.18 592.10 814.86 592.10 816.76 592.10C818.65 592.10 824.33 592.10 826.23 592.10C828.12 592.10 833.81 592.10 835.70 592.10C837.59 592.10 843.28 592.10 845.17 592.10C847.07 592.10 852.75 592.10 854.64 592.10C856.54 592.10 862.22 592.10 864.12 592.10C866.01 592.10 871.69 592.10 873.59 592.10C875.48 592.10 881.17 592.10 883.06 592.10C884.96 592.10 890.64 592.10 892.53 592.10C894.43 592.10 900.11 592.10 902.01 592.10C903.90 592.10 909.58 592.10 911.48 592.10C913.37 592.10 919.06 592.10 920.95 592.10C922.84 592.10 928.53 592.10 930.42 592.10C932.32 592.10 938.00 592.10 939.89 592.10C941.79 592.10 947.47 592.10 949.37 592.10C951.26 592.10 956.94 592.10 958.84 592.10C960.73 592.10 966.42 592.10 968.31 592.10C970.21 592.10 975.89 592.10 977.78 592.10C979.68 592.10 985.36 592.10 987.26 592.10C989.15 592.10 994.83 592.10 996.73 592.10C998.62 592.10 1004.31 592.10 1006.20 592.10C1008.09 592.10 1013.78 592.10 1015.67 592.10C1017.57 592.10 1023.25 592.10 1025.14 592.10C1027.04 592.10 1032.72 592.10 1034.62 592.10C1036.51 592.10 1042.19 592.10 1044.09 592.10C1045.98 592.10 1051.67 592.10 1053.56 592.10C1055.46 592.10 1061.14 592.10 1063.03 592.10C1064.93 592.10 1070.61 592.10 1072.51 592.10C1074.40 592.10 1080.08 592.10 1081.98 592.10C1083.87 592.10 1089.56 592.10 1091.45 592.10C1093.34 592.10 1099.03 592.10 1100.92 592.10C1102.82 592.10 1108.50 592.10 1110.39 592.10C1112.29 592.10 1117.97 592.10 1119.87 592.10C1121.76 592.10 1127.44 592.10 1129.34 592.10C1131.23 592.10 1136.92 592.10 1138.81 592.10C1140.71 592.10 1146.39 592.10 1148.28 592.10C1150.18 592.10 1155.86 592.10 1157.76 592.10C1159.65 592.10 1165.33 592.10 1167.23 592.10C1169.12 592.10 1174.81 592.10 1176.70 592.10C1178.59 592.10 1184.28 592.10 1186.17 592.10C1188.07 592.10 1193.75 592.10 1195.64 592.10C1197.54 592.10 1203.22 592.10 1205.12 592.10C1207.01 592.10 1212.69 592.10 1214.59 592.10C1216.48 592.10 1222.17 592.10 1224.06 592.10C1225.96 592.10 1231.64 592.10 1233.53 592.10C1235.43 592.10 1241.11 592.10 1243.01 592.10C1244.90 592.10 1250.58 592.10 1252.48 592.10C1254.37 592.10 1260.06 592.10 1261.95 592.10C1263.84 592.10 1269.53 592.10 1271.42 592.10C1273.32 592.10 1279.00 592.10 1280.89 592.10C1282.79 592.10 1288.47 592.10 1290.37 592.10C1292.26 592.10 1297.94 592.10 1299.84 592.10C1301.73 592.10 1307.42 592.10 1309.31 592.10C1311.21 592.10 1316.89 592.10 1318.78 592.10C1320.68 592.10 1326.36 592.10 1328.26 592.10C1330.15 592.10 1335.83 592.10 1337.73 592.10C1339.62 592.10 1345.31 592.10 1347.20 592.10C1349.09 592.10 1354.78 592.10 1356.67 592.10C1358.57 592.10 1364.25 592.10 1366.14 592.10C1368.04 592.10 1373.72 592.10 1375.62 592.10C1377.51 592.10 1383.19 592.10 1385.09 592.10C1386.98 592.10 1392.67 592.10 1394.56 592.10C1396.46 592.10 1402.14 592.10 1404.03 592.10C1405.93 592.10 1411.61 592.10 1413.51 592.10C1415.40 592.10 1421.08 592.10 1422.98 592.10C1424.87 592.10 1430.56 592.10 1432.45 592.10C1434.34 592.10 1440.03 592.10 1441.92 592.10C1443.82 592.10 1449.50 592.10 1451.39 592.10C1453.29 592.10 1458.97 592.10 1460.87 592.10C1462.76 592.10 1468.44 592.10 1470.34 592.10C1472.23 592.10 1477.92 592.10 1479.81 592.10C1481.71 592.10 1487.39 592.10 1489.28 592.10C1491.18 592.10 1496.86 592.10 1498.76 592.10C1500.65 592.10 1506.33 592.10 1508.23 592.10C1510.12 592.10 1515.81 592.10 1517.70 592.10C1519.59 592.10 1525.28 592.10 1527.17 592.10C1529.07 592.10 1534.75 592.10 1536.64 592.10C1538.54 592.10 1544.22 592.10 1546.12 592.10C1548.01 592.10 1553.69 592.10 1555.59 592.10C1557.48 592.10 1563.17 592.10 1565.06 592.10C1566.96 592.10 1572.64 592.10 1574.53 592.10C1576.43 592.10 1582.11 592.10 1584.01 592.10C1585.90 592.10 1591.58 592.10 1593.48 592.10C1595.37 592.10 1601.06 592.10 1602.95 592.10C1604.84 592.10 1610.53 592.10 1612.42 592.10C1614.32 592.10 1620.00 592.10 1621.89 592.10C1623.79 592.10 1629.47 592.10 1631.37 592.10C1633.26 592.10 1638.94 592.10 1640.84 592.10C1642.73 592.10 1648.42 592.10 1650.31 592.10C1652.21 592.10 1657.89 592.10 1659.78 592.10C1661.68 592.10 1667.36 592.10 1669.26 592.10C1671.15 592.10 1676.83 592.10 1678.73 592.10C1680.62 592.10 1686.31 592.10 1688.20 592.10C1690.09 592.10 1695.78 592.10 1697.67 592.10C1699.57 592.10 1705.25 592.10 1707.14 592.10C1709.04 592.10 1714.72 592.10 1716.62 592.10C1718.51 592.10 1724.19 592.10 1726.09 592.10C1727.98 592.10 1733.67 592.10 1735.56 592.10C1737.46 592.10 1743.14 592.10 1745.03 592.10C1746.93 592.10 1752.61 592.10 1754.51 592.10C1756.40 592.10 1762.08 592.10 1763.98 592.10C1765.87 592.10 1771.56 592.10 1773.45 592.10C1775.34 592.10 1781.03 592.10 1782.92 592.10C1784.82 592.10 1790.50 592.10 1792.39 592.10C1794.29 592.10 1799.97 592.10 1801.87 592.10C1803.76 592.10 1809.44 592.10 1811.34 592.10C1813.23 592.10 1818.92 592.10 1820.81 592.10C1822.71 592.10 1828.39 592.10 1830.28 592.10C1832.18 592.10 1837.86 592.10 1839.76 592.10C1841.65 592.10 1847.33 592.10 1849.23 592.10C1851.12 592.10 1856.81 592.10 1858.70 592.10C1860.59 592.10 1866.28 592.10 1868.17 592.10C1870.07 592.10 1875.75 592.10 1877.64 592.10C1879.54 592.10 1885.22 592.10 1887.12 592.10C1889.01 592.10 1894.69 592.10 1896.59 592.10C1898.48 592.10 1904.17 592.10 1906.06 592.10C1907.96 592.10 1913.64 592.10 1915.53 592.10C1917.43 592.10 1923.11 592.10 1925.01 592.10C1926.90 592.10 1932.58 592.10 1934.48 592.10C1936.37 592.10 1942.06 592.10 1943.95 592.10C1945.84 592.10 1951.53 592.10 1953.42 592.10C1955.32 592.10 1961.00 592.10 1962.89 592.10C1964.79 592.10 1970.47 592.10 1972.37 592.10C1974.26 592.10 1979.94 592.10 1981.84 592.10C1983.73 592.10 1989.42 592.10 1991.31 592.10C1993.21 592.10 1998.89 592.10 2000.78 592.10C2002.68 592.10 2008.36 592.10 2010.26 592.10C2012.15 592.10 2017.83 592.10 2019.73 592.10C2021.62 592.10 2027.31 592.10 2029.20 592.10" fill="none" stroke="rgba(0,0,245,0.7)" stroke-width="3.4"/>
<rect x="729.0" y="315" width="68" height="20.4" fill="rgba(0,0,245,0.7)" stroke="rgba(0,0,245,0.7)" stroke-width="3.4"/>
<text x="807.5" y="331.9">Lp1</text>
<rect x="859.6" y="315" width="68" height="20.4" fill="rgba(50,30,105,0.7)" stroke="rgba(50,30,105,0.7)" stroke-width="3.4"/>
<text x="937.5" y="331.9">Lp2</text>
<rect x="989.5" y="315" width="68" height="20.4" fill="rgba(234,55,40,0.3)" stroke="rgba(234,51,35,0.75)" stroke-width="1.7"/>
<text x="1066.8" y="331.9">EVU</text>
<rect x="1124.3" y="315" width="68" height="20.4" fill="rgba(117,251,76,0.3)" stroke="rgb(140,246,112)" stroke-width="1.7"/>
<text x="1201.8" y="331.9">PV</text>
<rect x="1245.5" y="315" width="68" height="20.4" fill="rgba(0,0,245,0.5)" stroke="rgba(0,0,245,0.5)" stroke-width="3.4" stroke-dasharray="17 8.5"/>
<text x="1323" y="331.9">LP1 SoC</text>
<rect x="1422.0" y="315" width="68" height="20.4" fill="rgba(0,0,0,0.7)" stroke="rgba(0,0,0,0.7)" stroke-width="3.4"/>
<text x="1499.5" y="331.9">Hausverbrauch</text>
<text x="307.2" y="359.30" text-anchor="end">8</text>
<text x="307.2" y="419.30" text-anchor="end">6</text>
<text x="307.2" y="479.30" text-anchor="end">4</text>
<text x="307.2" y="539.30" text-anchor="end">2</text>
<text x="307.2" y="599.30" text-anchor="end">0</text>
<text x="307.2" y="659.30" text-anchor="end">-2</text>
<text x="307.2" y="719.30" text-anchor="end">-4</text>
<text x="307.2" y="779.30" text-anchor="end">-6</text>
<text x="307.2" y="839.30" text-anchor="end">-8</text>
<text x="2045.6" y="359.30">100</text>
<text x="2045.6" y="407.30">90</text>
<text x="2045.6" y="455.30">80</text>
<text x="2045.6" y="503.30">70</text>
<text x="2045.6" y="551.30">60</text>
<text x="2045.6" y="599.30">50</text>
<text x="2045.6" y="647.30">40</text>
<text x="2045.6" y="695.30">30</text>
<text x="2045.6" y="743.30">20</text>
<text x="2045.6" y="791.30">10</text>
<text x="2045.6" y="839.30">0</text>
<text transform="translate(266.2,592.1) rotate(-90)" text-anchor="middle">Leistung [kW]</text>
<text transform="translate(2101.7,592.1) rotate(90)" text-anchor="middle">SoC [%]</text>
<text transform="translate(323.50,847.2) rotate(-50)" text-anchor="end" dy="7.2">15:39</text>
<text transform="translate(418.22,847.2) rotate(-50)" text-anchor="end" dy="7.2">15:41</text>
<text transform="translate(512.94,847.2) rotate(-50)" text-anchor="end" dy="7.2">15:42</text>
<text transform="translate(607.67,847.2) rotate(-50)" text-anchor="end" dy="7.2">15:44</text>
<text transform="translate(702.39,847.2) rotate(-50)" text-anchor="end" dy="7.2">15:46</text>
<text transform="translate(797.11,847.2) rotate(-50)" text-anchor="end" dy="7.2">15:47</text>
<text transform="translate(891.83,847.2) rotate(-50)" text-anchor="end" dy="7.2">15:49</text>
<text transform="translate(986.56,847.2) rotate(-50)" text-anchor="end" dy="7.2">15:51</text>
<text transform="translate(1081.28,847.2) rotate(-50)" text-anchor="end" dy="7.2">15:52</text>
<text transform="translate(1176.00,847.2) rotate(-50)" text-anchor="end" dy="7.2">15:54</text>
<text transform="translate(1270.72,847.2) rotate(-50)" text-anchor="end" dy="7.2">15:56</text>
<text transform="translate(1365.44,847.2) rotate(-50)" text-anchor="end" dy="7.2">15:57</text>
<text transform="translate(1460.17,847.2) rotate(-50)" text-anchor="end" dy="7.2">15:59</text>
<text transform="translate(1554.89,847.2) rotate(-50)" text-anchor="end" dy="7.2">16:01</text>
<text transform="translate(1649.61,847.2) rotate(-50)" text-anchor="end" dy="7.2">16:02</text>
<text transform="translate(1744.33,847.2) rotate(-50)" text-anchor="end" dy="7.2">16:04</text>
<text transform="translate(1839.06,847.2) rotate(-50)" text-anchor="end" dy="7.2">16:06</text>
<text transform="translate(1933.78,847.2) rotate(-50)" text-anchor="end" dy="7.2">16:07</text>
<text transform="translate(2028.50,847.2) rotate(-50)" text-anchor="end" dy="7.2">16:09</text>
</svg>
<div class="t" style="left:455.70px;top:156.60px;font-size:45.6px;font-weight:bold;color:#000;letter-spacing:-0.003px;">PV:</div><div class="t" style="left:537.27px;top:156.60px;font-size:45.6px;font-weight:bold;color:#000;letter-spacing:0.000px;transform:scaleX(1.0257);transform-origin:0 0;">6,72</div><div class="t" style="left:637.35px;top:156.60px;font-size:45.6px;font-weight:bold;color:#000;letter-spacing:0.000px;transform:scaleX(0.9838);transform-origin:0 0;">kW</div><div class="t" style="left:717.80px;top:162.19px;font-size:39px;font-weight:bold;color:#000;letter-spacing:0.000px;transform:scaleX(1.0956);transform-origin:0 0;">(29,26</div><div class="t" style="left:848.34px;top:162.19px;font-size:39px;font-weight:bold;color:#000;letter-spacing:0.000px;transform:scaleX(0.9781);transform-origin:0 0;">kWh)</div><div class="t" style="left:353.00px;top:228.70px;font-size:45.6px;font-weight:bold;color:#000;letter-spacing:0.000px;transform:scaleX(0.9660);transform-origin:0 0;">Hausverbrauch:</div><div class="t" style="left:697.70px;top:228.70px;font-size:45.6px;font-weight:bold;color:#000;letter-spacing:0.000px;transform:scaleX(1.0975);transform-origin:0 0;">504</div><div class="t" style="left:794.70px;top:228.70px;font-size:45.6px;font-weight:bold;color:#000;letter-spacing:0.000px;transform:scaleX(0.9674);transform-origin:0 0;">W</div><div class="t" style="left:847.47px;top:234.29px;font-size:39px;font-weight:bold;color:#000;letter-spacing:0.000px;transform:scaleX(1.0260);transform-origin:0 0;">(6,74</div><div class="t" style="left:949.64px;top:234.29px;font-size:39px;font-weight:bold;color:#000;letter-spacing:0.000px;transform:scaleX(0.9813);transform-origin:0 0;">kWh)</div><div class="t" style="left:1235.43px;top:156.60px;font-size:45.6px;font-weight:bold;color:#000;letter-spacing:0.000px;transform:scaleX(1.0242);transform-origin:0 0;">Netz</div><div class="t" style="left:1343.68px;top:156.60px;font-size:45.6px;font-weight:bold;color:#000;letter-spacing:0.000px;transform:scaleX(0.9409);transform-origin:0 0;">Exp:</div><div class="t" style="left:1444.10px;top:156.60px;font-size:45.6px;font-weight:bold;color:#000;letter-spacing:0.006px;">1,94</div><div class="t" style="left:1544.66px;top:156.60px;font-size:45.6px;font-weight:bold;color:#000;letter-spacing:0.000px;transform:scaleX(0.9792);transform-origin:0 0;">kW</div><div class="t" style="left:1624.04px;top:162.19px;font-size:39px;font-weight:bold;color:#000;letter-spacing:0.000px;transform:scaleX(1.0638);transform-origin:0 0;">(3,77</div><div class="t" style="left:1725.03px;top:162.19px;font-size:39px;font-weight:bold;color:#000;letter-spacing:0.000px;transform:scaleX(0.9834);transform-origin:0 0;">kWh</div><div class="t" style="left:1815.19px;top:162.19px;font-size:39px;font-weight:bold;color:#000;letter-spacing:0.000px;transform:scaleX(0.9551);transform-origin:0 0;">I)</div><div class="t" style="left:1851.80px;top:162.19px;font-size:39px;font-weight:bold;color:#000;letter-spacing:-0.039px;">(13,78</div><div class="t" style="left:1969.70px;top:162.19px;font-size:39px;font-weight:bold;color:#000;letter-spacing:-0.400px;">kWh</div><div class="t" style="left:2062.18px;top:162.19px;font-size:39px;font-weight:bold;color:#000;letter-spacing:0.000px;transform:scaleX(0.9108);transform-origin:0 0;">E)</div><div class="t" style="left:1320.51px;top:228.70px;font-size:45.6px;font-weight:bold;color:#000;letter-spacing:0.000px;transform:scaleX(0.9637);transform-origin:0 0;">Ladeleistung:</div><div class="t" style="left:1615.40px;top:228.70px;font-size:45.6px;font-weight:bold;color:#000;letter-spacing:0.000px;transform:scaleX(1.0757);transform-origin:0 0;">4,28</div><div class="t" style="left:1720.90px;top:228.70px;font-size:45.6px;font-weight:bold;color:#000;letter-spacing:0.243px;">kW</div><div class="t" style="left:1801.55px;top:234.29px;font-size:39px;font-weight:bold;color:#000;letter-spacing:0.000px;transform:scaleX(0.9523);transform-origin:0 0;">(12,51</div><div class="t" style="left:1918.20px;top:234.29px;font-size:39px;font-weight:bold;color:#000;letter-spacing:-0.441px;">kWh)</div><div class="t" style="left:344.60px;top:918.60px;font-size:45.6px;font-weight:bold;color:#4d4d4d;letter-spacing:0.000px;transform:scaleX(0.9678);transform-origin:0 0;">Ladepunkt</div><div class="t" style="left:780.16px;top:918.60px;font-size:45.6px;font-weight:bold;color:#4d4d4d;letter-spacing:0.000px;transform:scaleX(0.9795);transform-origin:0 0;">Ladeparameter</div><div class="t" style="left:1422.12px;top:918.60px;font-size:45.6px;font-weight:bold;color:#4d4d4d;letter-spacing:0.000px;transform:scaleX(0.9815);transform-origin:0 0;">geladen</div><div class="t" style="left:1947.45px;top:918.60px;font-size:45.6px;font-weight:bold;color:#4d4d4d;letter-spacing:0.000px;transform:scaleX(0.9523);transform-origin:0 0;">SoC</div><div class="t" style="left:322.60px;top:984.50px;font-size:45.6px;font-weight:bold;color:#2d6426;letter-spacing:-2.131px;transform:scaleX(0.9000);transform-origin:0 0;">LP1</div><div class="t" style="left:407.70px;top:984.50px;font-size:45.6px;font-weight:bold;color:#2d6426;letter-spacing:0.043px;">1-</div><div class="t" style="left:448.89px;top:984.50px;font-size:45.6px;font-weight:bold;color:#2d6426;letter-spacing:0.000px;transform:scaleX(0.9711);transform-origin:0 0;">phasig</div><div class="t" style="left:852.43px;top:983.99px;font-size:46.2px;font-weight:normal;color:#555;letter-spacing:0.000px;transform:scaleX(1.0739);transform-origin:0 0;">0</div><div class="t" style="left:889.90px;top:983.99px;font-size:46.2px;font-weight:normal;color:#555;letter-spacing:0.000px;transform:scaleX(0.8932);transform-origin:0 0;">W</div><div class="t" style="left:940.90px;top:983.99px;font-size:46.2px;font-weight:normal;color:#555;letter-spacing:0.000px;transform:scaleX(1.0231);transform-origin:0 0;">/</div><div class="t" style="left:962.89px;top:983.99px;font-size:46.2px;font-weight:normal;color:#555;letter-spacing:0.000px;transform:scaleX(1.1045);transform-origin:0 0;">8</div><div class="t" style="left:1002.80px;top:983.99px;font-size:46.2px;font-weight:normal;color:#555;letter-spacing:0.000px;transform:scaleX(0.8839);transform-origin:0 0;">A</div><div class="t" style="left:1322.80px;top:983.99px;font-size:46.2px;font-weight:normal;color:#555;letter-spacing:-0.482px;transform:scaleX(0.9000);transform-origin:0 0;">11,3</div><div class="t" style="left:1409.28px;top:983.99px;font-size:46.2px;font-weight:normal;color:#555;letter-spacing:0.000px;transform:scaleX(0.9736);transform-origin:0 0;">kWh</div><div class="t" style="left:1509.30px;top:983.99px;font-size:46.2px;font-weight:normal;color:#555;letter-spacing:0.000px;transform:scaleX(1.0231);transform-origin:0 0;">/</div><div class="t" style="left:1531.58px;top:983.99px;font-size:46.2px;font-weight:normal;color:#555;letter-spacing:0.000px;transform:scaleX(0.9605);transform-origin:0 0;">73,3</div><div class="t" style="left:1628.40px;top:983.99px;font-size:46.2px;font-weight:normal;color:#555;letter-spacing:-0.294px;">km</div><div class="t" style="left:1917.35px;top:983.99px;font-size:46.2px;font-weight:normal;color:#555;letter-spacing:0.000px;transform:scaleX(1.0233);transform-origin:0 0;">76</div><div class="t" style="left:1981.32px;top:983.99px;font-size:46.2px;font-weight:normal;color:#555;letter-spacing:0.000px;transform:scaleX(0.8795);transform-origin:0 0;">%</div><div class="t" style="left:298.93px;top:1050.40px;font-size:45.6px;font-weight:bold;color:#2d6426;letter-spacing:0.000px;transform:scaleX(0.9576);transform-origin:0 0;">LP2</div><div class="t" style="left:389.70px;top:1050.40px;font-size:45.6px;font-weight:bold;color:#2d6426;letter-spacing:2.643px;transform:scaleX(1.1000);transform-origin:0 0;">3-</div><div class="t" style="left:437.19px;top:1050.40px;font-size:45.6px;font-weight:bold;color:#2d6426;letter-spacing:0.000px;transform:scaleX(0.9711);transform-origin:0 0;">phasig</div><div class="t" style="left:795.40px;top:1049.89px;font-size:46.2px;font-weight:normal;color:#555;letter-spacing:0.064px;">4,28</div><div class="t" style="left:895.56px;top:1049.89px;font-size:46.2px;font-weight:normal;color:#555;letter-spacing:0.000px;transform:scaleX(0.9471);transform-origin:0 0;">kW</div><div class="t" style="left:1020.54px;top:1049.89px;font-size:46.2px;font-weight:normal;color:#555;letter-spacing:0.000px;transform:scaleX(1.0818);transform-origin:0 0;">8</div><div class="t" style="left:1060.30px;top:1049.89px;font-size:46.2px;font-weight:normal;color:#555;letter-spacing:0.000px;transform:scaleX(0.8839);transform-origin:0 0;">A</div><div class="t" style="left:1345.90px;top:1049.89px;font-size:46.2px;font-weight:normal;color:#555;letter-spacing:-1.482px;transform:scaleX(0.9000);transform-origin:0 0;">1,2</div><div class="t" style="left:1411.18px;top:1049.89px;font-size:46.2px;font-weight:normal;color:#555;letter-spacing:0.000px;transform:scaleX(0.9748);transform-origin:0 0;">kWh</div><div class="t" style="left:1511.20px;top:1049.89px;font-size:46.2px;font-weight:normal;color:#555;letter-spacing:0.000px;transform:scaleX(1.0308);transform-origin:0 0;">/</div><div class="t" style="left:1534.05px;top:1049.89px;font-size:46.2px;font-weight:normal;color:#555;letter-spacing:0.000px;transform:scaleX(0.9749);transform-origin:0 0;">8,2</div><div class="t" style="left:1606.50px;top:1049.89px;font-size:46.2px;font-weight:normal;color:#555;letter-spacing:-0.694px;">km</div><div class="t" style="left:1917.35px;top:1049.89px;font-size:46.2px;font-weight:normal;color:#555;letter-spacing:0.000px;transform:scaleX(1.0233);transform-origin:0 0;">76</div><div class="t" style="left:1981.32px;top:1049.89px;font-size:46.2px;font-weight:normal;color:#555;letter-spacing:0.000px;transform:scaleX(0.8795);transform-origin:0 0;">%</div><div class="t" style="left:880.20px;top:1168.88px;font-size:53.3px;font-weight:bold;color:#9b9a96;letter-spacing:-0.414px;">Sofortladen</div><div class="t" style="left:1182.22px;top:1168.88px;font-size:53.3px;font-weight:bold;color:#9b9a96;letter-spacing:0.000px;transform:scaleX(0.9812);transform-origin:0 0;">Stromstärke</div><div class="t" style="left:414.40px;top:1262.03px;font-size:51px;font-weight:normal;color:#000;letter-spacing:-4.246px;transform:scaleX(0.9000);transform-origin:0 0;">LP1</div><div class="t" style="left:501.58px;top:1262.03px;font-size:51px;font-weight:normal;color:#000;letter-spacing:0.000px;transform:scaleX(0.9736);transform-origin:0 0;">1-</div><div class="t" style="left:545.77px;top:1262.03px;font-size:51px;font-weight:normal;color:#000;letter-spacing:0.000px;transform:scaleX(0.9435);transform-origin:0 0;">phasig:</div><div class="t" style="left:400.40px;top:1365.03px;font-size:51px;font-weight:normal;color:#000;letter-spacing:0.000px;transform:scaleX(0.9244);transform-origin:0 0;">LP2</div><div class="t" style="left:496.10px;top:1365.03px;font-size:51px;font-weight:normal;color:#000;letter-spacing:0.000px;transform:scaleX(1.1000);transform-origin:0 0;">3-</div><div class="t" style="left:545.77px;top:1365.03px;font-size:51px;font-weight:normal;color:#000;letter-spacing:0.000px;transform:scaleX(0.9435);transform-origin:0 0;">phasig:</div><div class="t" style="left:1667.95px;top:1262.13px;font-size:51px;font-weight:normal;color:#000;letter-spacing:0.000px;transform:scaleX(1.0240);transform-origin:0 0;">8</div><div class="t" style="left:1709.20px;top:1262.13px;font-size:51px;font-weight:normal;color:#000;letter-spacing:0.000px;transform:scaleX(0.9147);transform-origin:0 0;">A</div><div class="t" style="left:1667.95px;top:1365.13px;font-size:51px;font-weight:normal;color:#000;letter-spacing:0.000px;transform:scaleX(1.0240);transform-origin:0 0;">8</div><div class="t" style="left:1709.20px;top:1365.13px;font-size:51px;font-weight:normal;color:#000;letter-spacing:0.000px;transform:scaleX(0.9147);transform-origin:0 0;">A</div>
<svg style="position:absolute;left:2028.34px;top:991.54px" width="35.61" height="35.61" viewBox="0 0 512 512"><path fill="#555" d="M256.455 8c66.269.119 126.437 26.233 170.859 68.685l35.715-35.715C478.149 25.851 504 36.559 504 57.941V192c0 13.255-10.745 24-24 24H345.941c-21.382 0-32.09-25.851-16.971-40.971l41.75-41.75c-30.864-28.899-70.801-44.907-113.23-45.273-92.398-.798-170.283 73.977-169.484 169.442C88.764 348.009 162.184 424 256 424c41.127 0 79.997-14.678 110.629-41.556 4.743-4.161 11.906-3.908 16.368.553l39.662 39.662c4.872 4.872 4.631 12.815-.482 17.433C378.202 479.813 319.926 504 256 504 119.034 504 8.001 392.967 8 256.002 7.999 119.193 119.646 7.755 256.455 8z"/></svg><svg style="position:absolute;left:2028.34px;top:1058.14px" width="35.61" height="35.61" viewBox="0 0 512 512"><path fill="#555" d="M256.455 8c66.269.119 126.437 26.233 170.859 68.685l35.715-35.715C478.149 25.851 504 36.559 504 57.941V192c0 13.255-10.745 24-24 24H345.941c-21.382 0-32.09-25.851-16.971-40.971l41.75-41.75c-30.864-28.899-70.801-44.907-113.23-45.273-92.398-.798-170.283 73.977-169.484 169.442C88.764 348.009 162.184 424 256 424c41.127 0 79.997-14.678 110.629-41.556 4.743-4.161 11.906-3.908 16.368.553l39.662 39.662c4.872 4.872 4.631 12.815-.482 17.433C378.202 479.813 319.926 504 256 504 119.034 504 8.001 392.967 8 256.002 7.999 119.193 119.646 7.755 256.455 8z"/></svg><svg style="position:absolute;left:588.90px;top:1059.00px" width="25.42" height="33.90" viewBox="0 0 384 512"><path fill="#2d6426" d="M320,32a32,32,0,0,0-64,0v96h64Zm48,128H16A16,16,0,0,0,0,176v32a16,16,0,0,0,16,16H32v32A160.07,160.07,0,0,0,160,412.8V512h64V412.8A160.07,160.07,0,0,0,352,256V224h16a16,16,0,0,0,16-16V176A16,16,0,0,0,368,160ZM128,32a32,32,0,0,0-64,0v96h64Z"/></svg><svg style="position:absolute;left:970px;top:1052px" width="42" height="42" viewBox="0 0 42 42"><circle cx="20.85" cy="21" r="16.6" fill="none" stroke="#555" stroke-width="3.1"/><text x="20.85" y="29" text-anchor="middle" font-family="Liberation Sans, sans-serif" font-weight="bold" font-size="23" fill="#555">3</text></svg>
<div class="track" style="top:1282px"></div><div class="thumb" style="left:785.6px;top:1274.5px"></div>
<div class="track" style="top:1384px"></div><div class="thumb" style="left:785.6px;top:1376.5px"></div>
<div class="b" style="left:0;top:1419.6px;width:2142px;height:2.4px;background:#9b9b9b"></div>
<div id="nav">
<div class="t" style="left:19.15px;top:13.31px;font-size:32.0px;font-weight:normal;color:#fff;letter-spacing:0.000px;transform:scaleX(1.0532);transform-origin:0 0;">openWB</div><div class="t" style="left:187.54px;top:15.51px;font-size:28.1px;font-weight:normal;color:rgba(255,255,255,.5);letter-spacing:0.000px;transform:scaleX(1.0305);transform-origin:0 0;">Logging</div><div class="t" style="left:347.40px;top:15.51px;font-size:28.1px;font-weight:normal;color:rgba(255,255,255,.5);letter-spacing:0.000px;">Status</div><div class="t" style="left:454.73px;top:15.51px;font-size:28.1px;font-weight:normal;color:rgba(255,255,255,.5);letter-spacing:0.000px;transform:scaleX(1.0340);transform-origin:0 0;">Hilfe</div><div class="t" style="left:539.00px;top:15.51px;font-size:28.1px;font-weight:normal;color:rgba(255,255,255,.5);letter-spacing:0.103px;">Einstellungen</div>
<div class="b" style="left:304.8px;top:24.7px;width:0;height:0;border-left:7.55px solid transparent;border-right:7.55px solid transparent;border-top:8.1px solid rgba(255,255,255,.5)"></div>
</div>
</body></html>
